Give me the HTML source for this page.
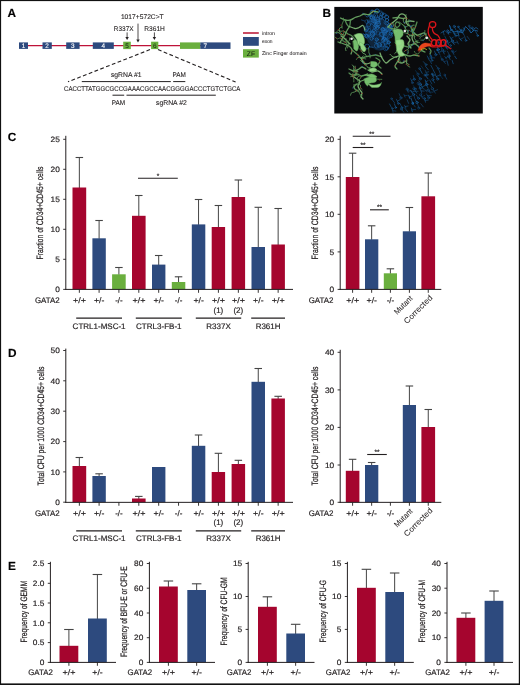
<!DOCTYPE html>
<html lang="en"><head><meta charset="utf-8"><title>GATA2 figure</title>
<style>html,body{margin:0;padding:0;background:#fff}svg{display:block}</style>
</head><body>
<svg width="520" height="685" viewBox="0 0 520 685" font-family="Liberation Sans, Arial, Helvetica, sans-serif" fill="#231f20" text-rendering="geometricPrecision">
<style>text{stroke:#231f20;stroke-width:0.18px;paint-order:stroke}text.w{stroke:#fff;stroke-width:0.1px}text.k{stroke:#000;stroke-width:0.25px}text.r{stroke-width:0.05px}.pa text{stroke-width:0.1px}.pa text.r{stroke-width:0.04px}text.v{stroke-width:0.22px}</style>
<rect x="0" y="0" width="520" height="685" fill="#fff"/>
<text x="7.60" y="17.42" font-size="11.8" font-weight="bold" fill="#000">A</text>
<text x="322.60" y="17.42" font-size="11.8" font-weight="bold" fill="#000">B</text>
<text x="7.80" y="140.82" font-size="11.8" font-weight="bold" fill="#000">C</text>
<text x="8.00" y="356.52" font-size="11.8" font-weight="bold" fill="#000">D</text>
<text x="8.00" y="569.82" font-size="11.8" font-weight="bold" fill="#000">E</text>
<g id="panelA" class="pa">
<line x1="19.50" y1="45.60" x2="230.00" y2="45.60" stroke="#be1238" stroke-width="1.3"/>
<rect x="19.00" y="42.40" width="9.00" height="6.50" fill="#2d4a7e"/>
<text x="23.50" y="48.04" font-size="6.4" text-anchor="middle" fill="#fff" class="w">1</text>
<rect x="42.50" y="42.40" width="9.30" height="6.50" fill="#2d4a7e"/>
<text x="47.15" y="48.04" font-size="6.4" text-anchor="middle" fill="#fff" class="w">2</text>
<rect x="66.20" y="42.40" width="13.40" height="6.50" fill="#2d4a7e"/>
<text x="72.90" y="48.04" font-size="6.4" text-anchor="middle" fill="#fff" class="w">3</text>
<rect x="92.80" y="42.40" width="21.00" height="6.50" fill="#2d4a7e"/>
<text x="103.30" y="48.04" font-size="6.4" text-anchor="middle" fill="#fff" class="w">4</text>
<rect x="123.20" y="41.70" width="7.60" height="7.40" fill="#6aaf3e"/>
<text x="127.00" y="48.04" font-size="6.4" text-anchor="middle" fill="#1d3a12">5</text>
<rect x="151.10" y="41.70" width="7.20" height="7.40" fill="#6aaf3e"/>
<text x="154.70" y="48.04" font-size="6.4" text-anchor="middle" fill="#1d3a12">6</text>
<rect x="180.00" y="42.40" width="20.40" height="6.50" fill="#6aaf3e"/>
<rect x="200.30" y="42.40" width="30.20" height="6.50" fill="#2d4a7e"/>
<text x="205.20" y="48.04" font-size="6.4" text-anchor="middle" fill="#fff" class="w">7</text>
<text x="120.90" y="18.73" font-size="6.8" textLength="42.80" lengthAdjust="spacingAndGlyphs">1017+572C&gt;T</text>
<text x="113.80" y="30.53" font-size="6.8" textLength="19.80" lengthAdjust="spacingAndGlyphs">R337X</text>
<text x="144.20" y="30.53" font-size="6.8" textLength="20.70" lengthAdjust="spacingAndGlyphs">R361H</text>
<line x1="138.00" y1="23.60" x2="138.00" y2="39.90" stroke="#231f20" stroke-width="0.8"/>
<path d="M136.30 39.40 L139.70 39.40 L138.00 42.40 Z" fill="#231f20"/>
<line x1="127.10" y1="32.40" x2="127.10" y2="37.50" stroke="#231f20" stroke-width="0.8"/>
<path d="M125.40 37.00 L128.80 37.00 L127.10 40.00 Z" fill="#231f20"/>
<line x1="154.40" y1="32.40" x2="154.40" y2="37.50" stroke="#231f20" stroke-width="0.8"/>
<path d="M152.70 37.00 L156.10 37.00 L154.40 40.00 Z" fill="#231f20"/>
<line x1="150.0" y1="49.6" x2="68.0" y2="81.8" stroke="#231f20" stroke-width="1.1" stroke-dasharray="3.8 2.4"/>
<line x1="158.0" y1="49.6" x2="235.6" y2="82.0" stroke="#231f20" stroke-width="1.1" stroke-dasharray="3.8 2.4"/>
<text x="126.20" y="77.03" font-size="6.8" text-anchor="middle" textLength="30.60" lengthAdjust="spacingAndGlyphs">sgRNA #1</text>
<text x="179.20" y="77.03" font-size="6.8" text-anchor="middle" textLength="13.40" lengthAdjust="spacingAndGlyphs">PAM</text>
<line x1="81.80" y1="81.60" x2="170.80" y2="81.60" stroke="#231f20" stroke-width="1.0"/>
<line x1="173.20" y1="81.60" x2="185.30" y2="81.60" stroke="#231f20" stroke-width="1.0"/>
<text x="64.00" y="90.83" font-size="6.8" textLength="176.40" lengthAdjust="spacingAndGlyphs">CACCTTATGGCGCCGAAACGCCAACGGGGACCCTGTCTGCA</text>
<line x1="112.50" y1="95.20" x2="124.20" y2="95.20" stroke="#231f20" stroke-width="1.0"/>
<line x1="126.50" y1="95.20" x2="215.80" y2="95.20" stroke="#231f20" stroke-width="1.0"/>
<text x="118.40" y="104.63" font-size="6.8" text-anchor="middle" textLength="13.40" lengthAdjust="spacingAndGlyphs">PAM</text>
<text x="171.40" y="104.63" font-size="6.8" text-anchor="middle" textLength="30.80" lengthAdjust="spacingAndGlyphs">sgRNA #2</text>
<line x1="243.00" y1="33.00" x2="258.80" y2="33.00" stroke="#b8102f" stroke-width="1.5"/>
<rect x="243.00" y="37.00" width="15.80" height="8.80" fill="#2d4a7e"/>
<rect x="243.00" y="49.20" width="15.80" height="8.40" fill="#6aaf3e"/>
<text x="250.90" y="55.76" font-size="6.6" text-anchor="middle" fill="#16240f">ZF</text>
<text x="262.00" y="35.10" font-size="5.3" textLength="13.00" lengthAdjust="spacingAndGlyphs" class="r">intron</text>
<text x="262.00" y="43.20" font-size="5.3" textLength="10.60" lengthAdjust="spacingAndGlyphs" class="r">exon</text>
<text x="262.00" y="54.90" font-size="5.3" textLength="44.60" lengthAdjust="spacingAndGlyphs" class="r">Zinc Finger domain</text>
</g>
<g id="panelB">
<rect x="334.3" y="6.9" width="148.5" height="106.6" fill="#0a0b0d"/>
<defs><filter id="soft" x="-5%" y="-5%" width="110%" height="110%"><feGaussianBlur stdDeviation="0.32"/></filter><clipPath id="bclip"><rect x="334.3" y="7" width="148.4" height="106.4"/></clipPath></defs>
<g clip-path="url(#bclip)"><g filter="url(#soft)" stroke-linecap="round" stroke-linejoin="round" fill="none">
<ellipse cx="377.5" cy="33" rx="12" ry="18" fill="#124a82" stroke="none" opacity="0.38" transform="rotate(-12 377.5 33)"/>
<circle cx="372.4" cy="17.5" r="2.1" stroke="#1b62a6" stroke-width="0.95" opacity="0.84"/>
<path d="M370.6 16.4L367.3 14.6" fill="none" stroke="#1b62a6" stroke-width="0.9" opacity="0.75"/>
<circle cx="375.1" cy="21.3" r="2.0" stroke="#1b62a6" stroke-width="0.95" opacity="0.84"/>
<path d="M375.5 23.3L376.0 26.5" fill="none" stroke="#1b62a6" stroke-width="0.9" opacity="0.75"/>
<circle cx="390.5" cy="35.8" r="1.9" stroke="#185896" stroke-width="0.95" opacity="0.57"/>
<circle cx="371.4" cy="17.2" r="1.6" stroke="#1e6fb8" stroke-width="0.95" opacity="0.75"/>
<circle cx="366.0" cy="35.6" r="1.7" stroke="#1b62a6" stroke-width="0.95" opacity="0.74"/>
<path d="M367.5 36.2L369.8 37.1" fill="none" stroke="#1b62a6" stroke-width="0.9" opacity="0.75"/>
<circle cx="382.7" cy="29.4" r="1.8" stroke="#1c68ae" stroke-width="0.95" opacity="0.87"/>
<path d="M382.7 31.2L382.8 33.5" fill="none" stroke="#1c68ae" stroke-width="0.9" opacity="0.75"/>
<circle cx="371.7" cy="32.3" r="1.8" stroke="#154c80" stroke-width="0.95" opacity="0.65"/>
<circle cx="366.4" cy="29.0" r="2.2" stroke="#185896" stroke-width="0.95" opacity="0.88"/>
<path d="M368.5 28.5L370.6 28.0" fill="none" stroke="#185896" stroke-width="0.9" opacity="0.75"/>
<circle cx="379.2" cy="44.9" r="2.2" stroke="#1e6fb8" stroke-width="0.95" opacity="0.79"/>
<path d="M377.2 43.9L374.7 42.5" fill="none" stroke="#1e6fb8" stroke-width="0.9" opacity="0.75"/>
<circle cx="376.7" cy="39.6" r="1.6" stroke="#1e6fb8" stroke-width="0.95" opacity="0.78"/>
<circle cx="386.8" cy="23.2" r="1.8" stroke="#1e6fb8" stroke-width="0.95" opacity="0.56"/>
<path d="M387.7 24.8L388.8 26.8" fill="none" stroke="#1e6fb8" stroke-width="0.9" opacity="0.75"/>
<circle cx="366.8" cy="21.6" r="1.9" stroke="#154c80" stroke-width="0.95" opacity="0.58"/>
<path d="M365.0 21.1L361.4 19.9" fill="none" stroke="#154c80" stroke-width="0.9" opacity="0.75"/>
<circle cx="386.8" cy="48.2" r="1.8" stroke="#154c80" stroke-width="0.95" opacity="0.90"/>
<circle cx="374.0" cy="20.9" r="1.6" stroke="#185896" stroke-width="0.95" opacity="0.63"/>
<path d="M372.5 21.1L369.3 21.4" fill="none" stroke="#185896" stroke-width="0.9" opacity="0.75"/>
<circle cx="375.1" cy="26.9" r="2.0" stroke="#185896" stroke-width="0.95" opacity="0.79"/>
<path d="M373.7 25.5L371.2 23.3" fill="none" stroke="#185896" stroke-width="0.9" opacity="0.75"/>
<circle cx="385.6" cy="48.6" r="2.2" stroke="#154c80" stroke-width="0.95" opacity="0.69"/>
<path d="M383.4 48.9L380.6 49.2" fill="none" stroke="#154c80" stroke-width="0.9" opacity="0.75"/>
<circle cx="375.8" cy="15.7" r="2.0" stroke="#1b62a6" stroke-width="0.95" opacity="0.55"/>
<path d="M377.4 16.9L379.6 18.6" fill="none" stroke="#1b62a6" stroke-width="0.9" opacity="0.75"/>
<circle cx="380.8" cy="17.4" r="1.7" stroke="#1e6fb8" stroke-width="0.95" opacity="0.76"/>
<path d="M382.1 18.5L384.3 20.5" fill="none" stroke="#1e6fb8" stroke-width="0.9" opacity="0.75"/>
<circle cx="391.4" cy="31.7" r="1.8" stroke="#185896" stroke-width="0.95" opacity="0.59"/>
<path d="M391.2 33.4L390.9 37.1" fill="none" stroke="#185896" stroke-width="0.9" opacity="0.75"/>
<circle cx="390.6" cy="33.7" r="1.6" stroke="#1c68ae" stroke-width="0.95" opacity="0.87"/>
<circle cx="371.6" cy="38.6" r="1.6" stroke="#1e6fb8" stroke-width="0.95" opacity="0.73"/>
<circle cx="373.3" cy="20.6" r="2.0" stroke="#1c68ae" stroke-width="0.95" opacity="0.67"/>
<path d="M374.1 18.7L375.6 15.1" fill="none" stroke="#1c68ae" stroke-width="0.9" opacity="0.75"/>
<circle cx="387.7" cy="45.7" r="2.2" stroke="#185896" stroke-width="0.95" opacity="0.62"/>
<path d="M387.5 43.4L387.0 39.5" fill="none" stroke="#185896" stroke-width="0.9" opacity="0.75"/>
<circle cx="385.9" cy="31.3" r="1.7" stroke="#1c68ae" stroke-width="0.95" opacity="0.88"/>
<path d="M387.5 30.7L391.1 29.1" fill="none" stroke="#1c68ae" stroke-width="0.9" opacity="0.75"/>
<circle cx="390.7" cy="26.7" r="1.7" stroke="#185896" stroke-width="0.95" opacity="0.71"/>
<path d="M389.0 26.9L385.1 27.3" fill="none" stroke="#185896" stroke-width="0.9" opacity="0.75"/>
<circle cx="389.4" cy="25.8" r="2.1" stroke="#1b62a6" stroke-width="0.95" opacity="0.87"/>
<circle cx="384.8" cy="31.6" r="1.7" stroke="#1e6fb8" stroke-width="0.95" opacity="0.58"/>
<circle cx="383.9" cy="30.9" r="2.2" stroke="#1b62a6" stroke-width="0.95" opacity="0.80"/>
<path d="M385.4 32.5L387.1 34.1" fill="none" stroke="#1b62a6" stroke-width="0.9" opacity="0.75"/>
<circle cx="367.2" cy="46.5" r="2.4" stroke="#1e6fb8" stroke-width="0.95" opacity="0.60"/>
<path d="M369.6 46.9L373.2 47.3" fill="none" stroke="#1e6fb8" stroke-width="0.9" opacity="0.75"/>
<circle cx="384.1" cy="15.4" r="2.2" stroke="#185896" stroke-width="0.95" opacity="0.70"/>
<circle cx="387.0" cy="20.1" r="1.7" stroke="#1e6fb8" stroke-width="0.95" opacity="0.73"/>
<circle cx="372.5" cy="34.4" r="2.3" stroke="#1b62a6" stroke-width="0.95" opacity="0.87"/>
<path d="M370.3 35.0L367.2 35.8" fill="none" stroke="#1b62a6" stroke-width="0.9" opacity="0.75"/>
<circle cx="389.2" cy="29.1" r="2.3" stroke="#1c68ae" stroke-width="0.95" opacity="0.60"/>
<path d="M386.9 28.9L383.2 28.7" fill="none" stroke="#1c68ae" stroke-width="0.9" opacity="0.75"/>
<circle cx="385.5" cy="37.2" r="2.2" stroke="#185896" stroke-width="0.95" opacity="0.61"/>
<path d="M385.2 35.0L384.7 31.9" fill="none" stroke="#185896" stroke-width="0.9" opacity="0.75"/>
<circle cx="372.5" cy="33.3" r="2.0" stroke="#1b62a6" stroke-width="0.95" opacity="0.86"/>
<path d="M373.2 35.2L373.9 37.1" fill="none" stroke="#1b62a6" stroke-width="0.9" opacity="0.75"/>
<circle cx="365.8" cy="30.4" r="1.5" stroke="#1b62a6" stroke-width="0.95" opacity="0.71"/>
<circle cx="377.7" cy="33.0" r="2.1" stroke="#154c80" stroke-width="0.95" opacity="0.73"/>
<circle cx="377.7" cy="21.6" r="2.0" stroke="#1e6fb8" stroke-width="0.95" opacity="0.87"/>
<circle cx="368.9" cy="30.2" r="1.9" stroke="#154c80" stroke-width="0.95" opacity="0.70"/>
<path d="M369.0 32.1L369.1 34.3" fill="none" stroke="#154c80" stroke-width="0.9" opacity="0.75"/>
<circle cx="382.4" cy="44.7" r="2.3" stroke="#185896" stroke-width="0.95" opacity="0.88"/>
<circle cx="373.6" cy="21.9" r="1.6" stroke="#154c80" stroke-width="0.95" opacity="0.63"/>
<circle cx="374.5" cy="32.0" r="2.4" stroke="#185896" stroke-width="0.95" opacity="0.61"/>
<path d="M372.2 31.7L369.5 31.5" fill="none" stroke="#185896" stroke-width="0.9" opacity="0.75"/>
<circle cx="368.7" cy="24.7" r="2.1" stroke="#1b62a6" stroke-width="0.95" opacity="0.67"/>
<path d="M368.1 22.6L367.2 20.0" fill="none" stroke="#1b62a6" stroke-width="0.9" opacity="0.75"/>
<circle cx="378.0" cy="23.7" r="2.4" stroke="#1b62a6" stroke-width="0.95" opacity="0.89"/>
<circle cx="385.6" cy="22.6" r="1.6" stroke="#154c80" stroke-width="0.95" opacity="0.85"/>
<circle cx="390.4" cy="28.5" r="2.0" stroke="#1c68ae" stroke-width="0.95" opacity="0.75"/>
<circle cx="383.0" cy="29.3" r="1.6" stroke="#1b62a6" stroke-width="0.95" opacity="0.77"/>
<circle cx="376.2" cy="25.6" r="2.0" stroke="#1e6fb8" stroke-width="0.95" opacity="0.77"/>
<path d="M375.7 23.6L374.7 19.9" fill="none" stroke="#1e6fb8" stroke-width="0.9" opacity="0.75"/>
<circle cx="381.2" cy="33.8" r="1.7" stroke="#154c80" stroke-width="0.95" opacity="0.73"/>
<path d="M380.3 35.2L379.1 36.9" fill="none" stroke="#154c80" stroke-width="0.9" opacity="0.75"/>
<circle cx="384.3" cy="34.7" r="1.7" stroke="#154c80" stroke-width="0.95" opacity="0.64"/>
<path d="M383.3 33.3L381.6 30.5" fill="none" stroke="#154c80" stroke-width="0.9" opacity="0.75"/>
<circle cx="382.0" cy="34.5" r="2.3" stroke="#1c68ae" stroke-width="0.95" opacity="0.66"/>
<path d="M382.3 36.8L382.6 39.1" fill="none" stroke="#1c68ae" stroke-width="0.9" opacity="0.75"/>
<circle cx="388.6" cy="42.3" r="1.6" stroke="#1e6fb8" stroke-width="0.95" opacity="0.89"/>
<circle cx="388.5" cy="29.5" r="1.5" stroke="#154c80" stroke-width="0.95" opacity="0.85"/>
<circle cx="371.2" cy="21.4" r="1.8" stroke="#154c80" stroke-width="0.95" opacity="0.61"/>
<path d="M372.9 21.5L375.7 21.5" fill="none" stroke="#154c80" stroke-width="0.9" opacity="0.75"/>
<circle cx="372.4" cy="12.5" r="2.3" stroke="#185896" stroke-width="0.95" opacity="0.67"/>
<path d="M370.7 14.0L368.5 16.0" fill="none" stroke="#185896" stroke-width="0.9" opacity="0.75"/>
<circle cx="377.6" cy="19.6" r="2.0" stroke="#1b62a6" stroke-width="0.95" opacity="0.58"/>
<circle cx="367.2" cy="36.2" r="1.9" stroke="#1e6fb8" stroke-width="0.95" opacity="0.66"/>
<path d="M365.6 35.3L363.0 33.7" fill="none" stroke="#1e6fb8" stroke-width="0.9" opacity="0.75"/>
<circle cx="384.8" cy="39.3" r="2.1" stroke="#1c68ae" stroke-width="0.95" opacity="0.69"/>
<path d="M386.9 39.1L389.2 38.8" fill="none" stroke="#1c68ae" stroke-width="0.9" opacity="0.75"/>
<circle cx="384.0" cy="38.7" r="1.5" stroke="#1c68ae" stroke-width="0.95" opacity="0.77"/>
<circle cx="386.6" cy="17.0" r="2.0" stroke="#1c68ae" stroke-width="0.95" opacity="0.75"/>
<circle cx="386.1" cy="41.6" r="2.4" stroke="#185896" stroke-width="0.95" opacity="0.58"/>
<path d="M384.6 39.8L382.1 36.8" fill="none" stroke="#185896" stroke-width="0.9" opacity="0.75"/>
<circle cx="373.9" cy="30.4" r="1.5" stroke="#1b62a6" stroke-width="0.95" opacity="0.77"/>
<circle cx="377.2" cy="11.1" r="2.2" stroke="#1c68ae" stroke-width="0.95" opacity="0.86"/>
<path d="M375.0 10.8L371.6 10.2" fill="none" stroke="#1c68ae" stroke-width="0.9" opacity="0.75"/>
<circle cx="376.7" cy="45.8" r="2.3" stroke="#185896" stroke-width="0.95" opacity="0.81"/>
<path d="M376.6 43.5L376.3 39.6" fill="none" stroke="#185896" stroke-width="0.9" opacity="0.75"/>
<circle cx="377.3" cy="27.5" r="1.9" stroke="#1e6fb8" stroke-width="0.95" opacity="0.82"/>
<circle cx="381.6" cy="14.3" r="1.6" stroke="#1e6fb8" stroke-width="0.95" opacity="0.78"/>
<circle cx="381.0" cy="16.7" r="1.9" stroke="#154c80" stroke-width="0.95" opacity="0.64"/>
<circle cx="383.1" cy="40.1" r="1.8" stroke="#1c68ae" stroke-width="0.95" opacity="0.65"/>
<path d="M383.3 38.3L383.7 34.3" fill="none" stroke="#1c68ae" stroke-width="0.9" opacity="0.75"/>
<circle cx="378.9" cy="24.4" r="1.6" stroke="#154c80" stroke-width="0.95" opacity="0.56"/>
<path d="M379.6 23.0L381.3 19.4" fill="none" stroke="#154c80" stroke-width="0.9" opacity="0.75"/>
<circle cx="376.0" cy="22.6" r="1.7" stroke="#185896" stroke-width="0.95" opacity="0.58"/>
<path d="M376.0 20.9L376.0 18.3" fill="none" stroke="#185896" stroke-width="0.9" opacity="0.75"/>
<path d="M372.0 12.0C372.5 11.8 374.0 10.4 375.0 10.5C376.0 10.6 377.0 12.4 378.0 12.5C379.0 12.6 380.0 10.8 381.0 11.0C382.0 11.2 383.5 13.1 384.0 13.5" fill="none" stroke="#1a64a6" stroke-width="0.8" opacity="0.8"/>
<path d="M364.0 14.0C364.5 14.5 366.0 16.8 367.0 17.0C368.0 17.2 369.0 15.3 370.0 15.5C371.0 15.7 372.5 17.6 373.0 18.0" fill="none" stroke="#1c6fb8" stroke-width="0.8" opacity="0.8"/>
<path d="M450.2 26.1L451.4 29.8" fill="none" stroke="#15548a" stroke-width="0.9" opacity="0.6164919905272594"/>
<path d="M454.5 26.7L455.9 29.9" fill="none" stroke="#1a66a8" stroke-width="0.9" opacity="0.5904251488542218"/>
<circle cx="454.3" cy="26.4" r="1.1" stroke="#1a66a8" stroke-width="0.7" opacity="0.8"/>
<path d="M458.5 27.1L460.5 30.6" fill="none" stroke="#185e9c" stroke-width="0.9" opacity="0.7009982689372438"/>
<circle cx="458.3" cy="26.8" r="0.8" stroke="#185e9c" stroke-width="0.7" opacity="0.8"/>
<path d="M463.2 27.7L464.9 30.5" fill="none" stroke="#185e9c" stroke-width="0.9" opacity="0.6488199576611007"/>
<path d="M469.2 26.4L470.4 31.2" fill="none" stroke="#12497c" stroke-width="0.9" opacity="0.5869628490812147"/>
<circle cx="469.1" cy="25.9" r="0.9" stroke="#12497c" stroke-width="0.7" opacity="0.8"/>
<path d="M472.3 27.9L473.2 31.0" fill="none" stroke="#12497c" stroke-width="0.9" opacity="0.7719015655207722"/>
<circle cx="472.2" cy="27.6" r="0.9" stroke="#12497c" stroke-width="0.7" opacity="0.8"/>
<path d="M443.2 31.2L444.1 35.0" fill="none" stroke="#15548a" stroke-width="0.9" opacity="0.7435379748666141"/>
<path d="M447.7 31.0L448.7 34.2" fill="none" stroke="#185e9c" stroke-width="0.9" opacity="0.8394505528371395"/>
<circle cx="447.6" cy="30.6" r="0.9" stroke="#185e9c" stroke-width="0.7" opacity="0.8"/>
<path d="M448.2 32.6L451.1 32.6" fill="none" stroke="#185e9c" stroke-width="0.8" opacity="0.7"/>
<path d="M452.6 31.6L455.2 35.6" fill="none" stroke="#12497c" stroke-width="0.9" opacity="0.5197459770893041"/>
<circle cx="455.5" cy="36.0" r="0.8" stroke="#12497c" stroke-width="0.7" opacity="0.8"/>
<path d="M453.9 33.6L457.0 33.1" fill="none" stroke="#12497c" stroke-width="0.8" opacity="0.7"/>
<path d="M457.3 30.9L458.8 35.1" fill="none" stroke="#1a66a8" stroke-width="0.9" opacity="0.8491354318542511"/>
<path d="M458.0 33.0L461.5 31.2" fill="none" stroke="#1a66a8" stroke-width="0.8" opacity="0.7"/>
<path d="M461.5 30.5L463.9 34.8" fill="none" stroke="#1a66a8" stroke-width="0.9" opacity="0.6548523013237217"/>
<circle cx="461.2" cy="30.1" r="0.9" stroke="#1a66a8" stroke-width="0.7" opacity="0.8"/>
<path d="M475.7 31.6L477.6 35.3" fill="none" stroke="#1a66a8" stroke-width="0.9" opacity="0.6562216245946226"/>
<circle cx="477.7" cy="35.7" r="0.8" stroke="#1a66a8" stroke-width="0.7" opacity="0.8"/>
<path d="M444.9 36.4L446.4 39.4" fill="none" stroke="#12497c" stroke-width="0.9" opacity="0.7808989131887978"/>
<path d="M449.9 36.7L452.2 40.6" fill="none" stroke="#1a66a8" stroke-width="0.9" opacity="0.7085009442840159"/>
<circle cx="452.5" cy="41.0" r="1.1" stroke="#1a66a8" stroke-width="0.7" opacity="0.8"/>
<path d="M451.0 38.6L453.2 37.3" fill="none" stroke="#1a66a8" stroke-width="0.8" opacity="0.7"/>
<path d="M459.3 37.9L461.6 40.9" fill="none" stroke="#185e9c" stroke-width="0.9" opacity="0.8459512479485565"/>
<path d="M460.5 39.4L463.3 37.8" fill="none" stroke="#185e9c" stroke-width="0.8" opacity="0.7"/>
<path d="M464.4 35.7L465.8 40.0" fill="none" stroke="#185e9c" stroke-width="0.9" opacity="0.6028731961013656"/>
<circle cx="465.9" cy="40.5" r="0.9" stroke="#185e9c" stroke-width="0.7" opacity="0.8"/>
<path d="M467.2 36.4L469.4 39.4" fill="none" stroke="#15548a" stroke-width="0.9" opacity="0.6386243584608943"/>
<path d="M437.8 40.6L439.5 44.9" fill="none" stroke="#15548a" stroke-width="0.9" opacity="0.7865915876965018"/>
<circle cx="439.6" cy="45.3" r="0.9" stroke="#15548a" stroke-width="0.7" opacity="0.8"/>
<path d="M438.6 42.7L441.9 41.1" fill="none" stroke="#15548a" stroke-width="0.8" opacity="0.7"/>
<path d="M442.9 40.5L444.9 44.2" fill="none" stroke="#15548a" stroke-width="0.9" opacity="0.5319034094256939"/>
<circle cx="445.1" cy="44.6" r="1.0" stroke="#15548a" stroke-width="0.7" opacity="0.8"/>
<path d="M443.9 42.3L447.6 40.9" fill="none" stroke="#15548a" stroke-width="0.8" opacity="0.7"/>
<path d="M447.0 41.4L449.0 45.2" fill="none" stroke="#1a66a8" stroke-width="0.9" opacity="0.6367558908075921"/>
<circle cx="446.8" cy="41.1" r="1.0" stroke="#1a66a8" stroke-width="0.7" opacity="0.8"/>
<path d="M448.0 43.3L450.3 42.0" fill="none" stroke="#1a66a8" stroke-width="0.8" opacity="0.7"/>
<path d="M451.9 41.3L454.4 44.6" fill="none" stroke="#185e9c" stroke-width="0.9" opacity="0.7242333422024837"/>
<path d="M453.2 42.9L456.2 42.6" fill="none" stroke="#185e9c" stroke-width="0.8" opacity="0.7"/>
<path d="M456.9 41.0L458.3 43.9" fill="none" stroke="#185e9c" stroke-width="0.9" opacity="0.6716783774178068"/>
<path d="M436.5 45.3L438.3 49.2" fill="none" stroke="#1a66a8" stroke-width="0.9" opacity="0.6078740675294297"/>
<circle cx="438.4" cy="49.6" r="1.1" stroke="#1a66a8" stroke-width="0.7" opacity="0.8"/>
<path d="M440.3 45.3L442.0 48.8" fill="none" stroke="#15548a" stroke-width="0.9" opacity="0.7165013404413403"/>
<path d="M445.7 46.4L447.3 49.2" fill="none" stroke="#1a66a8" stroke-width="0.9" opacity="0.6546884967127421"/>
<circle cx="445.6" cy="46.1" r="0.8" stroke="#1a66a8" stroke-width="0.7" opacity="0.8"/>
<path d="M446.5 47.8L449.5 48.1" fill="none" stroke="#1a66a8" stroke-width="0.8" opacity="0.7"/>
<path d="M450.5 45.7L451.3 48.6" fill="none" stroke="#15548a" stroke-width="0.9" opacity="0.5232332352447768"/>
<circle cx="450.5" cy="45.4" r="0.9" stroke="#15548a" stroke-width="0.7" opacity="0.8"/>
<path d="M429.7 51.4L430.6 55.8" fill="none" stroke="#12497c" stroke-width="0.9" opacity="0.6300131774892206"/>
<circle cx="430.7" cy="56.2" r="1.0" stroke="#12497c" stroke-width="0.7" opacity="0.8"/>
<path d="M434.5 51.0L435.7 54.4" fill="none" stroke="#185e9c" stroke-width="0.9" opacity="0.6806373699663458"/>
<circle cx="435.8" cy="54.7" r="1.1" stroke="#185e9c" stroke-width="0.7" opacity="0.8"/>
<path d="M437.5 50.3L439.8 54.5" fill="none" stroke="#1a66a8" stroke-width="0.9" opacity="0.5462081527034794"/>
<circle cx="437.3" cy="49.9" r="0.8" stroke="#1a66a8" stroke-width="0.7" opacity="0.8"/>
<path d="M438.6 52.4L441.2 51.5" fill="none" stroke="#1a66a8" stroke-width="0.8" opacity="0.7"/>
<path d="M442.8 50.5L444.3 54.0" fill="none" stroke="#15548a" stroke-width="0.9" opacity="0.7899650954918238"/>
<circle cx="442.6" cy="50.2" r="1.2" stroke="#15548a" stroke-width="0.7" opacity="0.8"/>
<path d="M443.5 52.2L445.8 51.0" fill="none" stroke="#15548a" stroke-width="0.8" opacity="0.7"/>
<path d="M447.5 51.4L449.9 55.7" fill="none" stroke="#1a66a8" stroke-width="0.9" opacity="0.5196456970701484"/>
<path d="M452.4 51.4L453.9 54.5" fill="none" stroke="#12497c" stroke-width="0.9" opacity="0.8162262145440269"/>
<circle cx="452.3" cy="51.1" r="1.0" stroke="#12497c" stroke-width="0.7" opacity="0.8"/>
<path d="M453.2 53.0L456.3 51.0" fill="none" stroke="#12497c" stroke-width="0.8" opacity="0.7"/>
<path d="M427.3 56.0L429.1 60.0" fill="none" stroke="#12497c" stroke-width="0.9" opacity="0.8210463179881544"/>
<path d="M428.2 58.0L432.0 58.5" fill="none" stroke="#12497c" stroke-width="0.8" opacity="0.7"/>
<path d="M430.7 55.2L431.9 60.0" fill="none" stroke="#15548a" stroke-width="0.9" opacity="0.761152972431745"/>
<circle cx="432.0" cy="60.5" r="0.9" stroke="#15548a" stroke-width="0.7" opacity="0.8"/>
<path d="M431.3 57.6L434.7 58.0" fill="none" stroke="#15548a" stroke-width="0.8" opacity="0.7"/>
<path d="M440.6 55.9L441.9 60.6" fill="none" stroke="#12497c" stroke-width="0.9" opacity="0.5818399686337945"/>
<path d="M444.8 56.5L446.6 59.0" fill="none" stroke="#185e9c" stroke-width="0.9" opacity="0.5373374325609893"/>
<path d="M445.7 57.8L447.9 56.6" fill="none" stroke="#185e9c" stroke-width="0.8" opacity="0.7"/>
<path d="M449.0 56.5L450.1 59.5" fill="none" stroke="#185e9c" stroke-width="0.9" opacity="0.7066654802606926"/>
<circle cx="448.9" cy="56.2" r="1.2" stroke="#185e9c" stroke-width="0.7" opacity="0.8"/>
<path d="M454.7 56.1L456.4 58.6" fill="none" stroke="#185e9c" stroke-width="0.9" opacity="0.7967010365343761"/>
<path d="M423.4 61.7L425.7 64.4" fill="none" stroke="#15548a" stroke-width="0.9" opacity="0.7626814569700733"/>
<circle cx="426.0" cy="64.7" r="1.0" stroke="#15548a" stroke-width="0.7" opacity="0.8"/>
<path d="M429.5 60.0L431.6 63.6" fill="none" stroke="#1a66a8" stroke-width="0.9" opacity="0.555613376195024"/>
<path d="M442.5 59.7L445.4 63.5" fill="none" stroke="#12497c" stroke-width="0.9" opacity="0.7608268952381649"/>
<circle cx="442.2" cy="59.3" r="0.9" stroke="#12497c" stroke-width="0.7" opacity="0.8"/>
<path d="M443.9 61.6L447.1 60.7" fill="none" stroke="#12497c" stroke-width="0.8" opacity="0.7"/>
<path d="M447.3 61.4L448.2 65.3" fill="none" stroke="#15548a" stroke-width="0.9" opacity="0.7640664882304682"/>
<path d="M452.2 60.5L453.2 63.7" fill="none" stroke="#1a66a8" stroke-width="0.9" opacity="0.6535793106345197"/>
<path d="M421.2 65.9L423.4 69.1" fill="none" stroke="#12497c" stroke-width="0.9" opacity="0.504416055155228"/>
<path d="M425.6 66.5L428.3 69.8" fill="none" stroke="#1a66a8" stroke-width="0.9" opacity="0.6416496794814703"/>
<path d="M430.9 65.4L433.0 69.3" fill="none" stroke="#15548a" stroke-width="0.9" opacity="0.7283698246481048"/>
<path d="M435.8 65.2L437.9 68.1" fill="none" stroke="#12497c" stroke-width="0.9" opacity="0.719896929675546"/>
<circle cx="438.2" cy="68.4" r="0.9" stroke="#12497c" stroke-width="0.7" opacity="0.8"/>
<path d="M415.6 70.6L417.7 73.8" fill="none" stroke="#12497c" stroke-width="0.9" opacity="0.5046579187833871"/>
<circle cx="417.9" cy="74.1" r="1.1" stroke="#12497c" stroke-width="0.7" opacity="0.8"/>
<path d="M419.8 69.0L422.2 73.4" fill="none" stroke="#15548a" stroke-width="0.9" opacity="0.8362980305193883"/>
<circle cx="419.5" cy="68.6" r="0.9" stroke="#15548a" stroke-width="0.7" opacity="0.8"/>
<path d="M425.1 70.2L427.0 74.4" fill="none" stroke="#15548a" stroke-width="0.9" opacity="0.5511922111630149"/>
<circle cx="427.2" cy="74.8" r="1.0" stroke="#15548a" stroke-width="0.7" opacity="0.8"/>
<path d="M426.0 72.3L428.7 71.8" fill="none" stroke="#15548a" stroke-width="0.8" opacity="0.7"/>
<path d="M433.2 70.0L435.1 73.5" fill="none" stroke="#15548a" stroke-width="0.9" opacity="0.7819028001474313"/>
<path d="M438.7 69.6L440.3 73.6" fill="none" stroke="#185e9c" stroke-width="0.9" opacity="0.6268510580320925"/>
<path d="M413.3 75.6L414.2 79.0" fill="none" stroke="#185e9c" stroke-width="0.9" opacity="0.5819615117420915"/>
<circle cx="414.3" cy="79.3" r="1.0" stroke="#185e9c" stroke-width="0.7" opacity="0.8"/>
<path d="M418.1 75.8L420.1 78.6" fill="none" stroke="#185e9c" stroke-width="0.9" opacity="0.6122394041254083"/>
<circle cx="420.3" cy="78.8" r="1.1" stroke="#185e9c" stroke-width="0.7" opacity="0.8"/>
<path d="M425.3 75.4L428.0 78.8" fill="none" stroke="#185e9c" stroke-width="0.9" opacity="0.8260225627544904"/>
<circle cx="425.0" cy="75.0" r="1.0" stroke="#185e9c" stroke-width="0.7" opacity="0.8"/>
<path d="M432.3 74.4L433.5 77.3" fill="none" stroke="#1a66a8" stroke-width="0.9" opacity="0.7306582393359796"/>
<circle cx="432.2" cy="74.1" r="0.9" stroke="#1a66a8" stroke-width="0.7" opacity="0.8"/>
<path d="M432.9 75.9L435.3 74.8" fill="none" stroke="#1a66a8" stroke-width="0.8" opacity="0.7"/>
<path d="M435.1 74.5L437.5 78.6" fill="none" stroke="#1a66a8" stroke-width="0.9" opacity="0.6206835708860192"/>
<circle cx="437.7" cy="79.0" r="1.1" stroke="#1a66a8" stroke-width="0.7" opacity="0.8"/>
<path d="M436.3 76.5L439.0 75.5" fill="none" stroke="#1a66a8" stroke-width="0.8" opacity="0.7"/>
<path d="M440.2 75.5L442.8 78.7" fill="none" stroke="#12497c" stroke-width="0.9" opacity="0.5173948547949547"/>
<circle cx="439.9" cy="75.2" r="0.8" stroke="#12497c" stroke-width="0.7" opacity="0.8"/>
<path d="M444.9 75.4L446.8 79.2" fill="none" stroke="#12497c" stroke-width="0.9" opacity="0.7193849931344026"/>
<circle cx="444.7" cy="75.0" r="0.9" stroke="#12497c" stroke-width="0.7" opacity="0.8"/>
<path d="M410.7 78.8L412.3 82.4" fill="none" stroke="#15548a" stroke-width="0.9" opacity="0.644345983431353"/>
<circle cx="412.4" cy="82.8" r="0.9" stroke="#15548a" stroke-width="0.7" opacity="0.8"/>
<path d="M411.5 80.6L413.6 79.2" fill="none" stroke="#15548a" stroke-width="0.8" opacity="0.7"/>
<path d="M418.7 80.8L421.2 83.8" fill="none" stroke="#15548a" stroke-width="0.9" opacity="0.7604725738286496"/>
<path d="M425.2 80.0L426.6 84.0" fill="none" stroke="#1a66a8" stroke-width="0.9" opacity="0.7482323026234945"/>
<circle cx="426.7" cy="84.4" r="1.2" stroke="#1a66a8" stroke-width="0.7" opacity="0.8"/>
<path d="M425.9 82.0L428.1 80.6" fill="none" stroke="#1a66a8" stroke-width="0.8" opacity="0.7"/>
<path d="M429.7 80.0L431.9 83.9" fill="none" stroke="#1a66a8" stroke-width="0.9" opacity="0.5580989624201858"/>
<path d="M433.0 79.9L434.5 82.8" fill="none" stroke="#15548a" stroke-width="0.9" opacity="0.7790762673381484"/>
<circle cx="432.8" cy="79.6" r="1.1" stroke="#15548a" stroke-width="0.7" opacity="0.8"/>
<path d="M413.3 85.6L415.3 88.7" fill="none" stroke="#12497c" stroke-width="0.9" opacity="0.5297722454294072"/>
<circle cx="415.5" cy="89.0" r="0.9" stroke="#12497c" stroke-width="0.7" opacity="0.8"/>
<path d="M418.4 83.8L420.0 87.9" fill="none" stroke="#12497c" stroke-width="0.9" opacity="0.8240996482905529"/>
<circle cx="418.2" cy="83.4" r="1.1" stroke="#12497c" stroke-width="0.7" opacity="0.8"/>
<path d="M420.8 85.0L423.4 89.0" fill="none" stroke="#1a66a8" stroke-width="0.9" opacity="0.6826504831190965"/>
<circle cx="420.5" cy="84.6" r="0.9" stroke="#1a66a8" stroke-width="0.7" opacity="0.8"/>
<path d="M422.1 87.0L425.2 85.4" fill="none" stroke="#1a66a8" stroke-width="0.8" opacity="0.7"/>
<path d="M426.5 85.0L428.0 88.1" fill="none" stroke="#15548a" stroke-width="0.9" opacity="0.8229163501337138"/>
<circle cx="426.3" cy="84.6" r="0.9" stroke="#15548a" stroke-width="0.7" opacity="0.8"/>
<path d="M430.4 84.7L432.1 87.4" fill="none" stroke="#185e9c" stroke-width="0.9" opacity="0.5716253224510075"/>
<path d="M407.2 89.5L408.2 92.4" fill="none" stroke="#15548a" stroke-width="0.9" opacity="0.589551766808395"/>
<circle cx="407.1" cy="89.2" r="1.1" stroke="#15548a" stroke-width="0.7" opacity="0.8"/>
<path d="M407.7 90.9L411.3 91.0" fill="none" stroke="#15548a" stroke-width="0.8" opacity="0.7"/>
<path d="M410.5 90.2L413.3 94.1" fill="none" stroke="#185e9c" stroke-width="0.9" opacity="0.7369112101337177"/>
<circle cx="413.6" cy="94.5" r="1.1" stroke="#185e9c" stroke-width="0.7" opacity="0.8"/>
<path d="M411.9 92.2L414.6 91.2" fill="none" stroke="#185e9c" stroke-width="0.8" opacity="0.7"/>
<path d="M414.1 89.1L416.8 93.2" fill="none" stroke="#15548a" stroke-width="0.9" opacity="0.8122594233931222"/>
<circle cx="413.9" cy="88.7" r="1.1" stroke="#15548a" stroke-width="0.7" opacity="0.8"/>
<path d="M415.4 91.2L418.1 91.3" fill="none" stroke="#15548a" stroke-width="0.8" opacity="0.7"/>
<path d="M420.3 88.6L421.8 93.3" fill="none" stroke="#185e9c" stroke-width="0.9" opacity="0.6347777004896644"/>
<circle cx="420.1" cy="88.2" r="1.0" stroke="#185e9c" stroke-width="0.7" opacity="0.8"/>
<path d="M421.0 90.9L424.3 91.1" fill="none" stroke="#185e9c" stroke-width="0.8" opacity="0.7"/>
<path d="M424.4 88.9L426.9 92.1" fill="none" stroke="#12497c" stroke-width="0.9" opacity="0.5506488338384021"/>
<path d="M425.7 90.5L428.3 89.7" fill="none" stroke="#12497c" stroke-width="0.8" opacity="0.7"/>
<path d="M428.6 90.6L430.5 93.2" fill="none" stroke="#12497c" stroke-width="0.9" opacity="0.6596646291472679"/>
<circle cx="428.4" cy="90.3" r="1.2" stroke="#12497c" stroke-width="0.7" opacity="0.8"/>
<path d="M429.5 91.9L433.0 92.2" fill="none" stroke="#12497c" stroke-width="0.8" opacity="0.7"/>
<path d="M432.7 89.1L435.4 93.2" fill="none" stroke="#15548a" stroke-width="0.9" opacity="0.6512208211932877"/>
<circle cx="432.4" cy="88.7" r="1.2" stroke="#15548a" stroke-width="0.7" opacity="0.8"/>
<path d="M434.0 91.2L437.6 89.7" fill="none" stroke="#15548a" stroke-width="0.8" opacity="0.7"/>
<path d="M399.1 93.6L400.7 97.5" fill="none" stroke="#15548a" stroke-width="0.9" opacity="0.570801794182604"/>
<circle cx="400.9" cy="97.9" r="1.1" stroke="#15548a" stroke-width="0.7" opacity="0.8"/>
<path d="M403.9 94.2L405.1 97.2" fill="none" stroke="#12497c" stroke-width="0.9" opacity="0.6433308707071512"/>
<path d="M404.5 95.7L407.4 95.4" fill="none" stroke="#12497c" stroke-width="0.8" opacity="0.7"/>
<path d="M408.6 95.2L409.9 98.7" fill="none" stroke="#185e9c" stroke-width="0.9" opacity="0.8262416188122226"/>
<path d="M409.2 97.0L411.9 96.0" fill="none" stroke="#185e9c" stroke-width="0.8" opacity="0.7"/>
<path d="M413.9 95.1L414.8 98.5" fill="none" stroke="#185e9c" stroke-width="0.9" opacity="0.5376909936511381"/>
<path d="M416.4 95.2L418.3 98.1" fill="none" stroke="#185e9c" stroke-width="0.9" opacity="0.563837839728282"/>
<circle cx="418.5" cy="98.3" r="1.0" stroke="#185e9c" stroke-width="0.7" opacity="0.8"/>
<path d="M420.8 95.1L423.0 98.6" fill="none" stroke="#12497c" stroke-width="0.9" opacity="0.7459258698334866"/>
<circle cx="420.6" cy="94.8" r="1.1" stroke="#12497c" stroke-width="0.7" opacity="0.8"/>
<path d="M421.9 96.9L424.8 95.3" fill="none" stroke="#12497c" stroke-width="0.8" opacity="0.7"/>
<path d="M426.5 93.8L428.5 97.4" fill="none" stroke="#15548a" stroke-width="0.9" opacity="0.5796016004039465"/>
<circle cx="428.7" cy="97.7" r="1.1" stroke="#15548a" stroke-width="0.7" opacity="0.8"/>
<path d="M427.5 95.6L431.4 95.7" fill="none" stroke="#15548a" stroke-width="0.8" opacity="0.7"/>
<path d="M391.7 99.0L394.4 102.6" fill="none" stroke="#12497c" stroke-width="0.9" opacity="0.8279271469176259"/>
<circle cx="391.5" cy="98.6" r="0.8" stroke="#12497c" stroke-width="0.7" opacity="0.8"/>
<path d="M396.4 99.2L398.2 103.1" fill="none" stroke="#185e9c" stroke-width="0.9" opacity="0.5877033985599492"/>
<circle cx="398.4" cy="103.5" r="0.9" stroke="#185e9c" stroke-width="0.7" opacity="0.8"/>
<path d="M397.3 101.2L400.0 99.7" fill="none" stroke="#185e9c" stroke-width="0.8" opacity="0.7"/>
<path d="M407.1 99.8L408.6 103.4" fill="none" stroke="#15548a" stroke-width="0.9" opacity="0.6790713604240064"/>
<path d="M411.0 98.1L412.5 102.6" fill="none" stroke="#1a66a8" stroke-width="0.9" opacity="0.713483411395491"/>
<circle cx="412.7" cy="103.0" r="0.9" stroke="#1a66a8" stroke-width="0.7" opacity="0.8"/>
<path d="M415.4 99.5L416.8 102.3" fill="none" stroke="#1a66a8" stroke-width="0.9" opacity="0.6167832507010789"/>
<circle cx="417.0" cy="102.5" r="1.2" stroke="#1a66a8" stroke-width="0.7" opacity="0.8"/>
<path d="M424.6 98.7L425.5 102.2" fill="none" stroke="#15548a" stroke-width="0.9" opacity="0.7702450089724736"/>
<circle cx="424.5" cy="98.4" r="1.0" stroke="#15548a" stroke-width="0.7" opacity="0.8"/>
<path d="M425.0 100.5L428.3 100.1" fill="none" stroke="#15548a" stroke-width="0.8" opacity="0.7"/>
<path d="M389.6 104.0L391.4 107.4" fill="none" stroke="#15548a" stroke-width="0.9" opacity="0.7742901440542787"/>
<path d="M394.4 103.8L395.7 107.2" fill="none" stroke="#1a66a8" stroke-width="0.9" opacity="0.6841425619600197"/>
<circle cx="395.8" cy="107.6" r="0.8" stroke="#1a66a8" stroke-width="0.7" opacity="0.8"/>
<path d="M400.1 103.6L401.7 107.1" fill="none" stroke="#15548a" stroke-width="0.9" opacity="0.6319496717568772"/>
<circle cx="401.9" cy="107.5" r="0.9" stroke="#15548a" stroke-width="0.7" opacity="0.8"/>
<path d="M404.5 105.2L405.9 107.9" fill="none" stroke="#185e9c" stroke-width="0.9" opacity="0.5897920369932588"/>
<path d="M405.2 106.5L408.1 106.0" fill="none" stroke="#185e9c" stroke-width="0.8" opacity="0.7"/>
<path d="M412.9 103.9L415.4 107.0" fill="none" stroke="#1a66a8" stroke-width="0.9" opacity="0.5036328478661702"/>
<circle cx="412.7" cy="103.6" r="0.8" stroke="#1a66a8" stroke-width="0.7" opacity="0.8"/>
<path d="M417.6 103.8L418.6 107.6" fill="none" stroke="#12497c" stroke-width="0.9" opacity="0.6540571828824641"/>
<circle cx="418.7" cy="108.0" r="1.1" stroke="#12497c" stroke-width="0.7" opacity="0.8"/>
<path d="M420.8 103.7L423.3 106.9" fill="none" stroke="#1a66a8" stroke-width="0.9" opacity="0.5386791063813422"/>
<path d="M392.3 108.8L393.1 112.6" fill="none" stroke="#15548a" stroke-width="0.9" opacity="0.5425254698907872"/>
<circle cx="392.3" cy="108.5" r="0.8" stroke="#15548a" stroke-width="0.7" opacity="0.8"/>
<path d="M392.7 110.7L395.9 111.1" fill="none" stroke="#15548a" stroke-width="0.8" opacity="0.7"/>
<path d="M401.6 109.3L403.8 112.3" fill="none" stroke="#15548a" stroke-width="0.9" opacity="0.5592951186858984"/>
<circle cx="401.4" cy="109.0" r="1.1" stroke="#15548a" stroke-width="0.7" opacity="0.8"/>
<path d="M404.6 107.9L407.6 111.6" fill="none" stroke="#15548a" stroke-width="0.9" opacity="0.70393174154624"/>
<path d="M411.4 108.1L412.3 111.7" fill="none" stroke="#15548a" stroke-width="0.9" opacity="0.8146037221211593"/>
<path d="M411.8 109.9L415.7 109.4" fill="none" stroke="#15548a" stroke-width="0.8" opacity="0.7"/>
<path d="M449.5 25.5L451.0 30.0L454.0 32.0L458.0 31.0L462.5 33.0L465.5 26.5L469.0 30.0L471.0 33.0L474.0 30.0L477.5 31.0" fill="none" stroke="#1a68ac" stroke-width="0.9" opacity="0.9"/>
<path d="M441.0 33.0L445.0 30.5L448.0 33.5L452.0 29.0L455.0 35.0L459.0 36.0" fill="none" stroke="#185d99" stroke-width="0.9" opacity="0.85"/>
<path d="M470.0 27.5L473.0 29.5L476.0 27.5L478.0 29.0" fill="none" stroke="#1a68ac" stroke-width="0.8" opacity="0.85"/>
<path d="M340.5 18.0C341.2 18.3 343.3 19.7 345.0 20.0C346.7 20.3 348.8 20.4 350.5 20.0C352.2 19.6 353.4 18.2 355.0 17.5C356.6 16.8 358.5 16.6 360.0 16.0C361.5 15.4 362.5 14.2 364.0 14.0C365.5 13.8 367.5 14.9 369.0 14.5C370.5 14.1 371.5 11.9 373.0 11.5C374.5 11.1 377.2 11.9 378.0 12.0" fill="none" stroke="#6aa864" stroke-width="1.3" opacity="0.92"/>
<path d="M345.0 20.0C345.3 20.8 346.2 23.4 347.0 24.5C347.8 25.6 348.9 27.2 349.5 26.5C350.1 25.8 350.3 21.1 350.5 20.0" fill="none" stroke="#5a9557" stroke-width="1.3" opacity="0.92"/>
<path d="M349.5 26.5C350.4 26.8 353.4 28.3 355.0 28.5C356.6 28.7 357.7 28.0 359.0 27.5C360.3 27.0 362.0 25.1 363.0 25.5C364.0 25.9 364.7 29.2 365.0 30.0" fill="none" stroke="#7fb876" stroke-width="1.3" opacity="0.92"/>
<path d="M349.5 26.5C349.1 27.2 347.8 29.1 347.0 30.5C346.2 31.9 345.8 33.6 345.0 35.0C344.2 36.4 342.8 37.7 342.0 39.0C341.2 40.3 340.3 42.3 340.0 43.0" fill="none" stroke="#6aa864" stroke-width="1.3" opacity="0.92"/>
<path d="M345.0 32.0C345.5 32.3 346.8 33.3 348.0 34.0C349.2 34.7 350.8 35.0 352.0 36.0C353.2 37.0 354.5 39.3 355.0 40.0" fill="none" stroke="#5a9557" stroke-width="1.3" opacity="0.92"/>
<path d="M341.0 36.0C341.5 36.3 343.0 37.2 344.0 38.0C345.0 38.8 346.0 40.0 347.0 41.0C348.0 42.0 349.5 43.5 350.0 44.0" fill="none" stroke="#7fb876" stroke-width="1.3" opacity="0.92"/>
<path d="M338.0 42.0C339.0 42.3 342.2 43.3 344.0 44.0C345.8 44.7 347.7 45.0 349.0 46.0C350.3 47.0 351.7 48.7 352.0 50.0C352.3 51.3 351.2 53.3 351.0 54.0" fill="none" stroke="#6aa864" stroke-width="1.3" opacity="0.92"/>
<path d="M352.0 50.0C353.0 50.8 356.5 53.7 358.0 55.0C359.5 56.3 359.8 57.7 361.0 58.0C362.2 58.3 363.5 57.3 365.0 57.0C366.5 56.7 368.2 56.3 370.0 56.0C371.8 55.7 374.0 54.8 376.0 55.0C378.0 55.2 381.0 56.7 382.0 57.0" fill="none" stroke="#5a9557" stroke-width="1.3" opacity="0.92"/>
<path d="M361.0 58.0C361.3 58.7 362.2 61.0 363.0 62.0C363.8 63.0 364.8 63.8 366.0 64.0C367.2 64.2 369.3 63.2 370.0 63.0" fill="none" stroke="#7fb876" stroke-width="1.3" opacity="0.92"/>
<path d="M349.0 69.0C349.8 69.3 352.3 71.0 354.0 71.0C355.7 71.0 357.7 69.7 359.0 69.0C360.3 68.3 360.8 67.0 362.0 67.0C363.2 67.0 365.3 68.7 366.0 69.0" fill="none" stroke="#6aa864" stroke-width="1.3" opacity="0.92"/>
<path d="M349.0 73.0C349.5 73.3 350.7 74.8 352.0 75.0C353.3 75.2 355.3 73.8 357.0 74.0C358.7 74.2 360.3 76.0 362.0 76.0C363.7 76.0 366.2 74.3 367.0 74.0" fill="none" stroke="#5a9557" stroke-width="1.3" opacity="0.92"/>
<path d="M352.5 76.0C353.2 76.5 355.8 78.1 357.0 79.0C358.2 79.9 359.8 80.3 360.0 81.5C360.2 82.7 358.0 84.6 358.0 86.0C358.0 87.4 359.3 88.8 360.0 90.0C360.7 91.2 361.8 91.9 362.0 93.0C362.2 94.1 360.8 95.5 361.0 96.5C361.2 97.5 362.7 98.6 363.0 99.0" fill="none" stroke="#7fb876" stroke-width="1.3" opacity="0.92"/>
<path d="M360.0 81.5L364.0 80.0" fill="none" stroke="#6aa864" stroke-width="1.3" opacity="0.92"/>
<path d="M357.0 84.0C356.5 84.5 354.2 86.0 354.0 87.0C353.8 88.0 355.7 89.5 356.0 90.0" fill="none" stroke="#5a9557" stroke-width="1.3" opacity="0.92"/>
<path d="M388.0 27.0C388.7 26.3 390.5 24.3 392.0 23.0C393.5 21.7 395.7 20.4 397.0 19.0C398.3 17.6 398.8 15.2 400.0 14.5C401.2 13.8 402.9 13.9 404.0 14.5C405.1 15.1 406.2 16.8 406.5 18.0C406.8 19.2 405.8 20.8 406.0 22.0C406.2 23.2 407.2 24.2 408.0 25.0C408.8 25.8 410.2 25.8 411.0 27.0C411.8 28.2 412.8 30.2 413.0 32.0C413.2 33.8 411.8 36.2 412.0 38.0C412.2 39.8 413.7 42.2 414.0 43.0" fill="none" stroke="#7fb876" stroke-width="1.3" opacity="0.92"/>
<path d="M393.0 18.0C393.8 17.9 396.3 17.4 398.0 17.5C399.7 17.6 401.6 18.4 403.0 18.5C404.4 18.6 405.9 18.1 406.5 18.0" fill="none" stroke="#6aa864" stroke-width="1.3" opacity="0.92"/>
<path d="M388.0 27.0C388.8 27.3 391.3 29.0 393.0 29.0C394.7 29.0 396.8 27.8 398.0 27.0C399.2 26.2 400.2 24.8 400.0 24.0C399.8 23.2 397.8 21.8 397.0 22.0C396.2 22.2 395.0 24.0 395.0 25.0C395.0 26.0 396.7 27.5 397.0 28.0" fill="none" stroke="#5a9557" stroke-width="1.3" opacity="0.92"/>
<path d="M406.0 22.0C406.7 21.8 408.7 21.1 410.0 21.0C411.3 20.9 413.3 21.4 414.0 21.5" fill="none" stroke="#7fb876" stroke-width="1.3" opacity="0.92"/>
<path d="M413.0 32.0C413.7 32.5 415.7 34.7 417.0 35.0C418.3 35.3 419.8 34.3 421.0 34.0C422.2 33.7 423.2 32.8 424.0 33.0C424.8 33.2 425.7 34.7 426.0 35.0" fill="none" stroke="#6aa864" stroke-width="1.3" opacity="0.92"/>
<path d="M417.0 22.0C416.7 23.0 415.7 26.3 415.0 28.0C414.3 29.7 413.3 31.3 413.0 32.0" fill="none" stroke="#5a9557" stroke-width="1.3" opacity="0.92"/>
<path d="M380.0 53.0C380.3 53.8 381.0 56.3 382.0 58.0C383.0 59.7 384.7 62.7 386.0 63.0C387.3 63.3 388.5 61.0 390.0 60.0C391.5 59.0 393.3 57.7 395.0 57.0C396.7 56.3 399.2 56.2 400.0 56.0" fill="none" stroke="#7fb876" stroke-width="1.3" opacity="0.92"/>
<path d="M405.0 55.0C405.8 55.2 408.5 56.0 410.0 56.0C411.5 56.0 412.5 55.0 414.0 55.0C415.5 55.0 418.2 55.8 419.0 56.0" fill="none" stroke="#6aa864" stroke-width="1.3" opacity="0.92"/>
<path d="M404.0 46.0C404.8 46.2 407.7 47.2 409.0 47.0C410.3 46.8 411.0 45.8 412.0 45.0C413.0 44.2 414.0 42.7 415.0 42.0C416.0 41.3 417.5 41.2 418.0 41.0" fill="none" stroke="#5a9557" stroke-width="1.3" opacity="0.92"/>
<path d="M400.0 56.0C399.7 56.8 397.7 59.8 398.0 61.0C398.3 62.2 400.7 63.0 402.0 63.0C403.3 63.0 405.3 61.3 406.0 61.0" fill="none" stroke="#7fb876" stroke-width="1.3" opacity="0.92"/>
<path d="M398.0 61.0C397.5 61.8 395.2 64.7 395.0 66.0C394.8 67.3 396.7 68.5 397.0 69.0" fill="none" stroke="#6aa864" stroke-width="1.3" opacity="0.92"/>
<path d="M429.0 48.0C429.3 48.5 430.8 50.0 431.0 51.0C431.2 52.0 430.2 53.5 430.0 54.0" fill="none" stroke="#5a9557" stroke-width="1.3" opacity="0.92"/>
<path d="M407.0 36.0C407.5 36.7 409.8 38.7 410.0 40.0C410.2 41.3 407.8 42.7 408.0 44.0C408.2 45.3 410.5 47.3 411.0 48.0" fill="none" stroke="#7fb876" stroke-width="1.3" opacity="0.92"/>
<path d="M414.0 43.0C414.7 43.5 416.8 44.8 418.0 46.0C419.2 47.2 419.8 49.0 421.0 50.0C422.2 51.0 424.3 51.7 425.0 52.0" fill="none" stroke="#6aa864" stroke-width="1.3" opacity="0.92"/>
<path d="M376.0 58.0C376.7 58.5 379.7 59.8 380.0 61.0C380.3 62.2 377.8 63.8 378.0 65.0C378.2 66.2 380.5 67.5 381.0 68.0" fill="none" stroke="#5a9557" stroke-width="1.3" opacity="0.92"/>
<path d="M368.0 70.0C368.7 70.3 370.3 71.8 372.0 72.0C373.7 72.2 376.3 70.7 378.0 71.0C379.7 71.3 381.3 73.5 382.0 74.0" fill="none" stroke="#7fb876" stroke-width="1.3" opacity="0.92"/>
<path d="M345.6 32.4C345.3 32.2 344.3 31.0 343.5 30.8C342.8 30.7 341.8 31.4 341.0 31.3C340.1 31.2 339.3 30.3 338.5 30.5C337.7 30.6 336.8 31.8 336.4 32.1" fill="none" stroke="#5a9557" stroke-width="1.0" opacity="0.85"/>
<path d="M344.8 41.8C345.1 42.1 346.4 42.7 346.8 43.4C347.2 44.1 347.3 45.2 347.1 46.0C346.8 46.8 345.7 47.3 345.5 48.1C345.3 48.9 345.9 50.2 346.0 50.6" fill="none" stroke="#6aa864" stroke-width="1.0" opacity="0.85"/>
<path d="M342.2 38.8C341.8 38.7 340.5 38.0 339.7 38.0C338.9 38.0 338.0 39.1 337.3 38.9C336.6 38.8 336.0 37.8 335.3 37.2C334.7 36.7 333.7 35.8 333.4 35.5" fill="none" stroke="#4f8a4c" stroke-width="1.0" opacity="0.85"/>
<path d="M346.1 38.7C346.2 39.1 346.3 40.5 346.8 41.2C347.2 41.9 348.4 42.2 348.7 42.9C348.9 43.7 348.5 44.7 348.3 45.5C348.1 46.4 347.6 47.6 347.5 48.0" fill="none" stroke="#5a9557" stroke-width="1.0" opacity="0.85"/>
<path d="M343.3 34.8C342.9 34.8 341.4 35.1 340.7 34.8C340.0 34.5 339.8 33.1 339.1 32.8C338.4 32.4 337.3 32.8 336.5 32.8C335.6 32.8 334.3 32.8 333.9 32.8" fill="none" stroke="#6aa864" stroke-width="1.0" opacity="0.85"/>
<path d="M342.2 28.2C342.2 27.8 341.8 26.5 341.9 25.6C341.9 24.8 342.2 23.9 342.5 23.1C342.8 22.3 343.4 21.5 343.5 20.7C343.7 19.9 343.4 18.6 343.4 18.1" fill="none" stroke="#4f8a4c" stroke-width="1.0" opacity="0.85"/>
<path d="M344.0 32.4C343.9 32.8 343.2 34.0 343.1 34.8C342.9 35.7 343.3 36.6 343.2 37.4C343.0 38.3 342.2 39.1 342.3 39.9C342.4 40.7 343.5 41.7 343.7 42.0" fill="none" stroke="#5a9557" stroke-width="1.0" opacity="0.85"/>
<path d="M341.9 27.0C341.5 27.2 340.0 27.6 339.6 28.2C339.2 28.9 339.3 30.0 339.5 30.8C339.6 31.7 340.0 32.6 340.5 33.2C341.1 33.8 342.4 34.3 342.8 34.5" fill="none" stroke="#6aa864" stroke-width="1.0" opacity="0.85"/>
<path d="M349.4 37.8C349.4 38.3 349.8 39.8 349.4 40.4C349.1 41.1 348.1 41.7 347.3 41.9C346.5 42.2 345.4 42.2 344.7 41.8C344.0 41.5 343.5 40.1 343.2 39.7" fill="none" stroke="#4f8a4c" stroke-width="1.0" opacity="0.85"/>
<path d="M407.8 23.9C408.2 24.2 409.4 24.8 409.9 25.4C410.5 26.0 411.0 26.9 411.3 27.7C411.5 28.5 411.4 29.4 411.6 30.2C411.9 31.1 412.6 32.1 412.9 32.5" fill="none" stroke="#5a9557" stroke-width="1.0" opacity="0.85"/>
<path d="M396.7 31.7C396.3 31.4 395.0 30.8 394.6 30.1C394.2 29.4 394.6 28.3 394.4 27.5C394.2 26.7 393.5 26.0 393.3 25.2C393.0 24.3 393.0 23.0 392.9 22.6" fill="none" stroke="#6aa864" stroke-width="1.0" opacity="0.85"/>
<path d="M406.7 30.4C407.1 30.4 408.5 30.2 409.3 30.4C410.1 30.7 410.8 31.7 411.5 31.7C412.3 31.7 413.4 31.0 413.7 30.3C414.0 29.6 413.5 28.2 413.4 27.7" fill="none" stroke="#4f8a4c" stroke-width="1.0" opacity="0.85"/>
<path d="M407.8 31.2C407.8 31.6 407.3 33.1 407.7 33.8C408.0 34.4 409.1 34.8 409.9 35.0C410.8 35.3 411.7 35.0 412.5 35.2C413.4 35.4 414.5 36.0 414.9 36.2" fill="none" stroke="#5a9557" stroke-width="1.0" opacity="0.85"/>
<path d="M409.7 36.1C409.5 35.8 408.9 34.5 408.2 34.0C407.6 33.5 406.6 33.3 405.8 33.0C405.0 32.8 404.0 32.8 403.3 32.5C402.5 32.1 401.5 31.2 401.2 30.9" fill="none" stroke="#6aa864" stroke-width="1.0" opacity="0.85"/>
<path d="M404.8 27.3C405.2 27.1 406.5 26.8 407.2 26.3C407.9 25.8 408.7 25.0 408.8 24.3C408.9 23.6 407.8 22.7 407.8 21.9C407.8 21.1 408.7 20.0 408.9 19.6" fill="none" stroke="#4f8a4c" stroke-width="1.0" opacity="0.85"/>
<path d="M403.0 25.5C403.3 25.8 404.6 26.3 405.1 27.0C405.6 27.6 405.3 28.8 405.8 29.5C406.3 30.2 407.6 30.3 407.9 31.0C408.3 31.6 407.9 33.1 407.8 33.6" fill="none" stroke="#5a9557" stroke-width="1.0" opacity="0.85"/>
<path d="M405.0 23.8C404.7 23.4 403.8 22.4 403.5 21.6C403.3 20.8 403.2 19.8 403.5 19.0C403.8 18.3 404.9 17.9 405.3 17.2C405.7 16.5 405.9 15.1 406.0 14.7" fill="none" stroke="#6aa864" stroke-width="1.0" opacity="0.85"/>
<path d="M414.9 32.7C414.5 32.5 413.2 32.0 412.6 31.4C412.1 30.8 411.5 30.0 411.3 29.2C411.1 28.4 411.0 27.3 411.3 26.6C411.6 25.8 412.9 25.1 413.2 24.8" fill="none" stroke="#4f8a4c" stroke-width="1.0" opacity="0.85"/>
<path d="M399.4 21.7C399.7 22.0 400.5 23.0 401.2 23.6C401.8 24.1 402.6 24.6 403.3 25.1C403.9 25.7 405.0 26.0 405.3 26.7C405.6 27.4 405.0 28.9 405.0 29.3" fill="none" stroke="#5a9557" stroke-width="1.0" opacity="0.85"/>
<path d="M412.3 33.9C412.6 34.2 413.8 35.0 414.2 35.7C414.5 36.4 414.1 37.5 414.4 38.3C414.7 39.1 415.5 39.6 415.9 40.4C416.4 41.1 417.0 42.2 417.3 42.6" fill="none" stroke="#6aa864" stroke-width="1.0" opacity="0.85"/>
<path d="M414.4 25.3C414.0 25.5 412.4 25.6 411.9 26.2C411.4 26.7 411.5 27.9 411.5 28.7C411.4 29.6 411.6 30.4 411.8 31.3C412.1 32.1 412.6 33.3 412.8 33.7" fill="none" stroke="#4f8a4c" stroke-width="1.0" opacity="0.85"/>
<path d="M406.3 58.3C406.4 58.7 406.9 59.9 406.9 60.8C406.9 61.6 406.3 62.5 406.4 63.3C406.5 64.2 406.9 65.1 407.5 65.7C408.1 66.3 409.4 66.8 409.8 67.0" fill="none" stroke="#5a9557" stroke-width="1.0" opacity="0.85"/>
<path d="M394.7 53.5C395.0 53.2 396.1 52.4 396.6 51.7C397.0 51.0 396.9 49.8 397.4 49.2C398.0 48.7 399.3 49.0 399.9 48.4C400.5 47.9 400.7 46.4 400.9 46.0" fill="none" stroke="#6aa864" stroke-width="1.0" opacity="0.85"/>
<path d="M396.5 52.2C396.8 51.8 397.2 50.5 397.9 50.0C398.5 49.4 399.7 49.5 400.2 48.9C400.8 48.3 400.7 47.2 401.1 46.5C401.6 45.8 402.6 44.9 402.9 44.6" fill="none" stroke="#4f8a4c" stroke-width="1.0" opacity="0.85"/>
<path d="M396.3 50.8C396.6 50.6 398.0 49.9 398.3 49.2C398.6 48.5 398.5 47.4 398.2 46.6C398.0 45.8 397.4 45.0 396.9 44.4C396.3 43.7 395.2 43.0 394.9 42.7" fill="none" stroke="#5a9557" stroke-width="1.0" opacity="0.85"/>
<path d="M404.9 55.9C405.1 56.3 406.0 57.3 406.3 58.1C406.5 58.9 406.3 59.9 406.4 60.7C406.5 61.6 406.4 62.7 406.8 63.3C407.3 63.9 408.8 64.3 409.1 64.5" fill="none" stroke="#6aa864" stroke-width="1.0" opacity="0.85"/>
<path d="M399.7 58.9C399.7 59.3 399.5 60.9 399.9 61.5C400.3 62.1 401.5 62.7 402.2 62.6C403.0 62.5 403.5 61.0 404.2 60.9C404.9 60.8 406.1 61.9 406.5 62.1" fill="none" stroke="#4f8a4c" stroke-width="1.0" opacity="0.85"/>
<path d="M404.0 51.7C404.4 51.4 405.4 50.6 406.1 50.2C406.9 49.7 408.0 49.6 408.4 49.0C408.9 48.4 408.7 47.3 408.9 46.4C409.0 45.6 409.1 44.3 409.2 43.8" fill="none" stroke="#5a9557" stroke-width="1.0" opacity="0.85"/>
<path d="M398.4 55.4C398.1 55.7 397.5 57.2 396.8 57.5C396.1 57.8 395.1 57.4 394.2 57.2C393.4 57.0 392.6 56.6 391.9 56.1C391.2 55.6 390.3 54.6 390.0 54.3" fill="none" stroke="#6aa864" stroke-width="1.0" opacity="0.85"/>
<path d="M414.4 51.4C414.6 51.8 415.2 53.2 415.9 53.6C416.5 54.0 417.8 54.2 418.4 53.9C419.1 53.5 419.2 52.2 419.8 51.6C420.4 51.1 421.8 50.8 422.2 50.7" fill="none" stroke="#4f8a4c" stroke-width="1.0" opacity="0.85"/>
<path d="M408.1 50.3C408.1 50.7 408.5 52.2 408.3 52.9C408.0 53.7 407.2 54.6 406.5 54.8C405.7 55.0 404.7 54.1 403.9 54.3C403.1 54.4 402.1 55.5 401.8 55.7" fill="none" stroke="#5a9557" stroke-width="1.0" opacity="0.85"/>
<path d="M366.4 56.4C366.2 56.0 365.8 54.6 365.2 54.1C364.6 53.6 363.3 53.8 362.8 53.2C362.2 52.7 362.2 51.5 361.6 50.9C361.1 50.2 360.0 49.5 359.7 49.2" fill="none" stroke="#6aa864" stroke-width="1.0" opacity="0.85"/>
<path d="M358.0 75.1C357.5 75.1 356.1 74.9 355.4 75.2C354.6 75.4 353.6 76.1 353.3 76.7C353.0 77.4 353.7 78.4 353.8 79.3C353.9 80.2 353.8 81.5 353.8 81.9" fill="none" stroke="#4f8a4c" stroke-width="1.0" opacity="0.85"/>
<path d="M356.5 59.5C356.8 59.2 357.4 57.8 358.1 57.5C358.8 57.3 359.8 57.8 360.7 58.0C361.5 58.2 362.4 58.3 363.2 58.5C364.1 58.6 365.4 58.8 365.8 58.9" fill="none" stroke="#5a9557" stroke-width="1.0" opacity="0.85"/>
<path d="M367.6 73.9C367.2 74.2 366.1 75.0 365.3 75.2C364.5 75.4 363.4 75.0 362.7 75.3C362.0 75.7 361.5 76.6 361.0 77.3C360.5 78.0 359.8 79.1 359.6 79.4" fill="none" stroke="#6aa864" stroke-width="1.0" opacity="0.85"/>
<path d="M367.5 67.3C368.0 67.3 369.3 67.8 370.1 67.5C370.9 67.3 371.4 66.3 372.2 66.0C373.0 65.7 374.2 66.2 374.8 65.7C375.3 65.3 375.4 63.6 375.5 63.2" fill="none" stroke="#4f8a4c" stroke-width="1.0" opacity="0.85"/>
<path d="M370.0 57.9C370.0 57.4 370.3 56.1 370.1 55.3C370.0 54.5 369.2 53.8 369.0 53.0C368.7 52.1 368.8 51.2 368.8 50.4C368.7 49.5 368.7 48.2 368.6 47.8" fill="none" stroke="#5a9557" stroke-width="1.0" opacity="0.85"/>
<path d="M357.9 71.6C357.4 71.6 356.0 71.9 355.3 71.6C354.5 71.2 353.7 70.4 353.4 69.7C353.2 69.0 354.1 67.9 353.9 67.2C353.8 66.4 352.7 65.4 352.4 65.0" fill="none" stroke="#6aa864" stroke-width="1.0" opacity="0.85"/>
<path d="M361.7 76.3C361.3 76.3 359.9 75.9 359.1 76.2C358.4 76.5 357.4 77.2 357.1 77.9C356.9 78.6 357.2 79.7 357.5 80.5C357.7 81.3 358.6 82.3 358.8 82.7" fill="none" stroke="#4f8a4c" stroke-width="1.0" opacity="0.85"/>
<path d="M352.5 71.1C352.9 71.3 354.5 71.4 355.0 71.9C355.5 72.5 355.7 73.8 355.4 74.5C355.0 75.2 354.0 75.6 353.2 76.0C352.4 76.3 351.1 76.6 350.7 76.7" fill="none" stroke="#5a9557" stroke-width="1.0" opacity="0.85"/>
<path d="M365.1 65.0C365.0 64.6 364.9 63.3 364.6 62.5C364.2 61.7 363.4 61.2 362.9 60.5C362.4 59.8 361.6 59.0 361.7 58.2C361.7 57.5 362.8 56.4 363.1 56.0" fill="none" stroke="#6aa864" stroke-width="1.0" opacity="0.85"/>
<path d="M354.4 69.3C354.4 69.7 354.9 71.1 354.6 71.9C354.3 72.6 352.8 72.9 352.6 73.6C352.4 74.3 352.8 75.4 353.3 76.1C353.8 76.7 355.2 77.2 355.5 77.4" fill="none" stroke="#4f8a4c" stroke-width="1.0" opacity="0.85"/>
<path d="M360.5 60.2C360.8 60.5 361.5 61.6 362.1 62.2C362.7 62.8 363.6 63.2 364.2 63.7C364.9 64.3 365.4 65.0 366.0 65.6C366.7 66.2 367.8 66.8 368.2 67.1" fill="none" stroke="#5a9557" stroke-width="1.0" opacity="0.85"/>
<path d="M355.1 66.2C355.1 66.6 354.9 68.0 355.2 68.8C355.5 69.5 356.7 69.9 357.0 70.6C357.2 71.4 356.7 72.4 356.6 73.2C356.4 74.0 356.0 75.3 355.8 75.7" fill="none" stroke="#6aa864" stroke-width="1.0" opacity="0.85"/>
<path d="M372.5 75.8C372.8 76.1 373.9 76.8 374.6 77.3C375.3 77.9 375.8 78.7 376.6 79.0C377.4 79.3 378.3 79.2 379.2 79.3C380.0 79.3 381.3 79.4 381.8 79.4" fill="none" stroke="#4f8a4c" stroke-width="1.0" opacity="0.85"/>
<path d="M358.7 89.9C358.3 90.1 357.1 90.7 356.3 91.1C355.6 91.5 354.8 91.9 354.0 92.2C353.2 92.5 352.0 92.3 351.5 92.8C350.9 93.3 350.7 94.8 350.6 95.2" fill="none" stroke="#5a9557" stroke-width="1.0" opacity="0.85"/>
<path d="M359.3 92.0C358.9 91.8 357.8 91.3 357.0 90.8C356.3 90.4 355.4 90.0 354.9 89.3C354.4 88.7 353.9 87.8 353.8 87.0C353.7 86.1 354.2 84.8 354.2 84.4" fill="none" stroke="#6aa864" stroke-width="1.0" opacity="0.85"/>
<path d="M362.2 95.6C361.9 95.4 360.4 95.1 359.9 94.5C359.4 93.9 359.4 92.8 359.0 92.0C358.6 91.3 358.2 90.3 357.6 89.9C356.9 89.5 355.4 89.5 355.0 89.4" fill="none" stroke="#4f8a4c" stroke-width="1.0" opacity="0.85"/>
<path d="M362.2 89.7C361.9 89.4 360.8 88.5 360.5 87.7C360.2 87.0 360.8 85.8 360.3 85.1C359.9 84.5 358.8 84.1 358.0 84.0C357.2 83.9 355.9 84.4 355.4 84.4" fill="none" stroke="#5a9557" stroke-width="1.0" opacity="0.85"/>
<path d="M419.4 42.5C419.0 42.6 417.6 42.5 416.8 42.8C416.0 43.1 415.4 43.9 414.6 44.2C413.8 44.5 412.9 44.3 412.0 44.4C411.2 44.5 409.9 44.9 409.5 45.1" fill="none" stroke="#6aa864" stroke-width="1.0" opacity="0.85"/>
<path d="M424.2 39.0C424.6 38.7 425.5 37.5 426.3 37.4C427.0 37.3 428.2 37.7 428.7 38.3C429.3 38.8 429.0 40.1 429.6 40.7C430.1 41.3 431.5 41.7 431.9 41.8" fill="none" stroke="#4f8a4c" stroke-width="1.0" opacity="0.85"/>
<path d="M419.9 38.5C420.1 38.1 420.5 36.7 421.2 36.2C421.8 35.7 423.1 36.1 423.7 35.5C424.3 35.0 424.5 34.0 424.7 33.1C424.9 32.3 424.9 31.0 424.9 30.6" fill="none" stroke="#5a9557" stroke-width="1.0" opacity="0.85"/>
<path d="M419.5 36.2C419.0 36.0 417.8 35.8 417.0 35.4C416.2 35.1 415.5 34.1 414.7 34.1C414.0 34.0 413.2 34.8 412.4 35.1C411.6 35.4 410.3 35.7 409.9 35.9" fill="none" stroke="#6aa864" stroke-width="1.0" opacity="0.85"/>
<path d="M420.8 40.1C421.2 40.1 422.6 40.2 423.4 40.0C424.1 39.7 425.0 39.1 425.5 38.4C425.9 37.7 425.8 36.7 426.0 35.9C426.1 35.0 426.1 33.7 426.1 33.3" fill="none" stroke="#4f8a4c" stroke-width="1.0" opacity="0.85"/>
<circle cx="363.0" cy="13.2" r="0.55" fill="#2a62b0" stroke="none" opacity="0.85"/>
<circle cx="373.1" cy="11.1" r="0.55" fill="#b02a20" stroke="none" opacity="0.85"/>
<circle cx="364.0" cy="26.0" r="0.55" fill="#2a62b0" stroke="none" opacity="0.85"/>
<circle cx="341.7" cy="38.3" r="0.55" fill="#b02a20" stroke="none" opacity="0.85"/>
<circle cx="347.1" cy="34.7" r="0.55" fill="#b02a20" stroke="none" opacity="0.85"/>
<circle cx="355.6" cy="40.4" r="0.55" fill="#2a62b0" stroke="none" opacity="0.85"/>
<circle cx="351.5" cy="50.9" r="0.55" fill="#b02a20" stroke="none" opacity="0.85"/>
<circle cx="357.7" cy="54.4" r="0.55" fill="#b02a20" stroke="none" opacity="0.85"/>
<circle cx="375.3" cy="54.7" r="0.55" fill="#2a62b0" stroke="none" opacity="0.85"/>
<circle cx="362.9" cy="62.9" r="0.55" fill="#2a62b0" stroke="none" opacity="0.85"/>
<circle cx="370.2" cy="62.7" r="0.55" fill="#b02a20" stroke="none" opacity="0.85"/>
<circle cx="354.8" cy="71.2" r="0.55" fill="#b02a20" stroke="none" opacity="0.85"/>
<circle cx="362.3" cy="66.5" r="0.55" fill="#2a62b0" stroke="none" opacity="0.85"/>
<circle cx="353.0" cy="74.7" r="0.55" fill="#b02a20" stroke="none" opacity="0.85"/>
<circle cx="362.1" cy="93.5" r="0.55" fill="#b02a20" stroke="none" opacity="0.85"/>
<circle cx="391.6" cy="23.6" r="0.55" fill="#b02a20" stroke="none" opacity="0.85"/>
<circle cx="407.0" cy="18.5" r="0.55" fill="#b02a20" stroke="none" opacity="0.85"/>
<circle cx="413.7" cy="32.4" r="0.55" fill="#2a62b0" stroke="none" opacity="0.85"/>
<circle cx="413.7" cy="42.6" r="0.55" fill="#2a62b0" stroke="none" opacity="0.85"/>
<circle cx="394.4" cy="25.8" r="0.55" fill="#b02a20" stroke="none" opacity="0.85"/>
<circle cx="409.9" cy="21.1" r="0.55" fill="#2a62b0" stroke="none" opacity="0.85"/>
<circle cx="415.4" cy="27.5" r="0.55" fill="#b02a20" stroke="none" opacity="0.85"/>
<circle cx="400.8" cy="56.2" r="0.55" fill="#b02a20" stroke="none" opacity="0.85"/>
<circle cx="418.7" cy="55.9" r="0.55" fill="#b02a20" stroke="none" opacity="0.85"/>
<circle cx="409.7" cy="46.1" r="0.55" fill="#2a62b0" stroke="none" opacity="0.85"/>
<circle cx="414.4" cy="42.8" r="0.55" fill="#b02a20" stroke="none" opacity="0.85"/>
<circle cx="397.3" cy="60.5" r="0.55" fill="#b02a20" stroke="none" opacity="0.85"/>
<circle cx="405.1" cy="60.9" r="0.55" fill="#b02a20" stroke="none" opacity="0.85"/>
<circle cx="395.0" cy="65.2" r="0.55" fill="#b02a20" stroke="none" opacity="0.85"/>
<circle cx="418.6" cy="46.8" r="0.55" fill="#2a62b0" stroke="none" opacity="0.85"/>
<circle cx="379.5" cy="61.3" r="0.55" fill="#b02a20" stroke="none" opacity="0.85"/>
<circle cx="381.7" cy="74.5" r="0.55" fill="#b02a20" stroke="none" opacity="0.85"/>
<circle cx="343.8" cy="31.4" r="0.55" fill="#b02a20" stroke="none" opacity="0.85"/>
<circle cx="338.3" cy="29.6" r="0.55" fill="#b02a20" stroke="none" opacity="0.85"/>
<circle cx="336.2" cy="38.0" r="0.55" fill="#b02a20" stroke="none" opacity="0.85"/>
<circle cx="336.7" cy="33.3" r="0.55" fill="#2a62b0" stroke="none" opacity="0.85"/>
<circle cx="340.9" cy="25.1" r="0.55" fill="#b02a20" stroke="none" opacity="0.85"/>
<circle cx="343.7" cy="34.7" r="0.55" fill="#b02a20" stroke="none" opacity="0.85"/>
<circle cx="341.5" cy="33.4" r="0.55" fill="#b02a20" stroke="none" opacity="0.85"/>
<circle cx="345.1" cy="42.4" r="0.55" fill="#b02a20" stroke="none" opacity="0.85"/>
<circle cx="410.5" cy="26.4" r="0.55" fill="#2a62b0" stroke="none" opacity="0.85"/>
<circle cx="394.7" cy="29.6" r="0.55" fill="#2a62b0" stroke="none" opacity="0.85"/>
<circle cx="393.2" cy="25.5" r="0.55" fill="#2a62b0" stroke="none" opacity="0.85"/>
<circle cx="409.6" cy="30.2" r="0.55" fill="#b02a20" stroke="none" opacity="0.85"/>
<circle cx="412.6" cy="34.6" r="0.55" fill="#b02a20" stroke="none" opacity="0.85"/>
<circle cx="408.4" cy="34.5" r="0.55" fill="#b02a20" stroke="none" opacity="0.85"/>
<circle cx="408.3" cy="30.9" r="0.55" fill="#2a62b0" stroke="none" opacity="0.85"/>
<circle cx="404.3" cy="22.4" r="0.55" fill="#2a62b0" stroke="none" opacity="0.85"/>
<circle cx="405.0" cy="18.0" r="0.55" fill="#b02a20" stroke="none" opacity="0.85"/>
<circle cx="411.9" cy="27.4" r="0.55" fill="#b02a20" stroke="none" opacity="0.85"/>
<circle cx="405.4" cy="26.6" r="0.55" fill="#2a62b0" stroke="none" opacity="0.85"/>
<circle cx="411.4" cy="25.7" r="0.55" fill="#2a62b0" stroke="none" opacity="0.85"/>
<circle cx="411.6" cy="30.9" r="0.55" fill="#2a62b0" stroke="none" opacity="0.85"/>
<circle cx="408.5" cy="65.1" r="0.55" fill="#b02a20" stroke="none" opacity="0.85"/>
<circle cx="400.8" cy="49.0" r="0.55" fill="#b02a20" stroke="none" opacity="0.85"/>
<circle cx="400.8" cy="46.4" r="0.55" fill="#b02a20" stroke="none" opacity="0.85"/>
<circle cx="398.7" cy="49.4" r="0.55" fill="#2a62b0" stroke="none" opacity="0.85"/>
<circle cx="396.0" cy="44.9" r="0.55" fill="#b02a20" stroke="none" opacity="0.85"/>
<circle cx="406.8" cy="58.9" r="0.55" fill="#b02a20" stroke="none" opacity="0.85"/>
<circle cx="406.1" cy="64.2" r="0.55" fill="#b02a20" stroke="none" opacity="0.85"/>
<circle cx="399.1" cy="62.4" r="0.55" fill="#b02a20" stroke="none" opacity="0.85"/>
<circle cx="403.8" cy="60.9" r="0.55" fill="#2a62b0" stroke="none" opacity="0.85"/>
<circle cx="405.5" cy="50.5" r="0.55" fill="#b02a20" stroke="none" opacity="0.85"/>
<circle cx="409.1" cy="46.7" r="0.55" fill="#2a62b0" stroke="none" opacity="0.85"/>
<circle cx="415.3" cy="54.2" r="0.55" fill="#b02a20" stroke="none" opacity="0.85"/>
<circle cx="419.0" cy="51.8" r="0.55" fill="#b02a20" stroke="none" opacity="0.85"/>
<circle cx="407.5" cy="52.0" r="0.55" fill="#2a62b0" stroke="none" opacity="0.85"/>
<circle cx="403.1" cy="55.2" r="0.55" fill="#b02a20" stroke="none" opacity="0.85"/>
<circle cx="361.1" cy="50.9" r="0.55" fill="#b02a20" stroke="none" opacity="0.85"/>
<circle cx="357.8" cy="57.5" r="0.55" fill="#b02a20" stroke="none" opacity="0.85"/>
<circle cx="362.7" cy="59.4" r="0.55" fill="#b02a20" stroke="none" opacity="0.85"/>
<circle cx="360.4" cy="76.8" r="0.55" fill="#b02a20" stroke="none" opacity="0.85"/>
<circle cx="373.9" cy="66.3" r="0.55" fill="#2a62b0" stroke="none" opacity="0.85"/>
<circle cx="369.8" cy="54.4" r="0.55" fill="#2a62b0" stroke="none" opacity="0.85"/>
<circle cx="352.8" cy="75.8" r="0.55" fill="#b02a20" stroke="none" opacity="0.85"/>
<circle cx="364.4" cy="62.3" r="0.55" fill="#b02a20" stroke="none" opacity="0.85"/>
<circle cx="353.3" cy="77.0" r="0.55" fill="#b02a20" stroke="none" opacity="0.85"/>
<circle cx="365.5" cy="65.0" r="0.55" fill="#b02a20" stroke="none" opacity="0.85"/>
<circle cx="355.4" cy="67.8" r="0.55" fill="#b02a20" stroke="none" opacity="0.85"/>
<circle cx="356.9" cy="72.8" r="0.55" fill="#b02a20" stroke="none" opacity="0.85"/>
<circle cx="374.9" cy="77.2" r="0.55" fill="#b02a20" stroke="none" opacity="0.85"/>
<circle cx="379.7" cy="80.0" r="0.55" fill="#b02a20" stroke="none" opacity="0.85"/>
<circle cx="356.4" cy="90.8" r="0.55" fill="#b02a20" stroke="none" opacity="0.85"/>
<circle cx="352.9" cy="87.9" r="0.55" fill="#2a62b0" stroke="none" opacity="0.85"/>
<circle cx="360.7" cy="87.8" r="0.55" fill="#b02a20" stroke="none" opacity="0.85"/>
<circle cx="412.7" cy="45.1" r="0.55" fill="#2a62b0" stroke="none" opacity="0.85"/>
<circle cx="429.0" cy="40.0" r="0.55" fill="#b02a20" stroke="none" opacity="0.85"/>
<circle cx="420.6" cy="35.6" r="0.55" fill="#2a62b0" stroke="none" opacity="0.85"/>
<circle cx="424.0" cy="33.8" r="0.55" fill="#2a62b0" stroke="none" opacity="0.85"/>
<circle cx="417.9" cy="36.1" r="0.55" fill="#b02a20" stroke="none" opacity="0.85"/>
<circle cx="423.1" cy="40.6" r="0.55" fill="#2a62b0" stroke="none" opacity="0.85"/>
<circle cx="425.3" cy="35.4" r="0.55" fill="#b02a20" stroke="none" opacity="0.85"/>
<path d="M354.0 35.0C354.7 34.8 356.7 33.7 358.0 33.5C359.3 33.3 361.0 33.2 362.0 34.0C363.0 34.8 363.6 36.5 364.0 38.0C364.4 39.5 365.0 41.7 364.5 43.0C364.0 44.3 362.1 45.8 361.0 46.0C359.9 46.2 358.7 45.0 358.0 44.0C357.3 43.0 357.2 40.7 357.0 40.0Z" fill="#9adf8c" stroke="#68b060" stroke-width="0.5" opacity="0.95"/>
<path d="M353.0 41.0C353.5 40.8 355.1 39.2 356.0 40.0C356.9 40.8 358.3 44.2 358.5 46.0C358.7 47.8 357.8 50.5 357.0 51.0C356.2 51.5 354.5 49.3 354.0 49.0Z" fill="#7cc772" stroke="#68b060" stroke-width="0.5" opacity="0.95"/>
<path d="M359.5 42.0C360.1 42.3 361.9 42.8 363.0 44.0C364.1 45.2 365.8 47.7 366.0 49.0C366.2 50.3 364.8 52.0 364.0 52.0C363.2 52.0 361.5 49.5 361.0 49.0Z" fill="#9adf8c" stroke="#68b060" stroke-width="0.5" opacity="0.95"/>
<path d="M393.0 30.0C393.7 29.8 395.5 29.0 397.0 29.0C398.5 29.0 401.0 29.0 402.0 30.0C403.0 31.0 403.3 33.5 403.0 35.0C402.7 36.5 400.3 37.5 400.0 39.0C399.7 40.5 401.7 43.2 401.0 44.0C400.3 44.8 397.0 45.2 396.0 44.0C395.0 42.8 395.2 38.2 395.0 37.0Z" fill="#7cc772" stroke="#68b060" stroke-width="0.5" opacity="0.95"/>
<path d="M396.0 40.0C397.2 40.0 401.7 39.0 403.0 40.0C404.3 41.0 404.2 44.2 404.0 46.0C403.8 47.8 401.8 49.5 402.0 51.0C402.2 52.5 405.3 54.2 405.0 55.0C404.7 55.8 401.3 56.7 400.0 56.0C398.7 55.3 397.7 53.0 397.0 51.0C396.3 49.0 396.2 45.2 396.0 44.0Z" fill="#9adf8c" stroke="#68b060" stroke-width="0.5" opacity="0.95"/>
<path d="M364.0 79.0C364.8 78.7 367.2 77.3 369.0 77.0C370.8 76.7 373.8 76.2 375.0 77.0C376.2 77.8 377.0 80.4 376.0 81.5C375.0 82.6 370.4 82.8 369.0 83.5C367.6 84.2 368.2 86.1 367.5 86.0C366.8 85.9 365.4 83.5 365.0 83.0Z" fill="#7cc772" stroke="#68b060" stroke-width="0.5" opacity="0.95"/>
<path d="M367.5 83.5C368.4 83.8 371.0 84.9 373.0 85.0C375.0 85.1 378.1 84.4 379.5 84.0C380.9 83.6 381.6 82.0 381.5 82.5C381.4 83.0 380.6 86.2 379.0 87.0C377.4 87.8 373.2 87.4 372.0 87.5Z" fill="#9adf8c" stroke="#68b060" stroke-width="0.5" opacity="0.95"/>
<path d="M371.0 61.5C371.8 61.6 374.9 61.4 376.0 62.0C377.1 62.6 377.8 64.1 377.5 65.0C377.2 65.9 375.2 67.3 374.0 67.5C372.8 67.7 371.1 66.2 370.5 66.0Z" fill="#7cc772" stroke="#68b060" stroke-width="0.5" opacity="0.95"/>
<path d="M369.0 68.5C369.8 68.4 372.7 67.8 374.0 68.0C375.3 68.2 377.2 69.4 377.0 70.0C376.8 70.6 374.2 71.3 373.0 71.5C371.8 71.7 370.1 71.1 369.5 71.0Z" fill="#9adf8c" stroke="#68b060" stroke-width="0.5" opacity="0.95"/>
<path d="M365.0 75.0C366.2 74.8 370.0 73.7 372.0 74.0C374.0 74.3 377.2 76.4 377.0 77.0C376.8 77.6 372.0 77.4 371.0 77.5Z" fill="#7cc772" stroke="#68b060" stroke-width="0.5" opacity="0.95"/>
<ellipse cx="432.6" cy="24.6" rx="3.2" ry="3.0" stroke="#d8141a" stroke-width="1.3"/>
<path d="M432.3 27.4C432.4 28.0 432.4 30.0 432.8 31.0C433.2 32.0 433.7 32.9 434.5 33.6C435.3 34.3 436.8 34.4 437.7 35.2C438.6 36.0 439.4 37.9 439.8 38.4" fill="none" stroke="#d8141a" stroke-width="1.3"/>
<path d="M429.4 25.5C429.2 26.2 428.5 28.2 428.3 29.5C428.1 30.8 428.1 32.2 428.4 33.5C428.7 34.8 429.4 36.0 430.0 37.0C430.6 38.0 431.7 39.1 432.0 39.5" fill="none" stroke="#d8141a" stroke-width="1.3"/>
<ellipse cx="434.0" cy="42.8" rx="2.6" ry="3.1" stroke="#d8141a" stroke-width="1.5" transform="rotate(15 434.0 42.8)"/>
<ellipse cx="438.6" cy="42.8" rx="2.6" ry="3.1" stroke="#d8141a" stroke-width="1.5" transform="rotate(15 438.6 42.8)"/>
<ellipse cx="443.2" cy="42.8" rx="2.6" ry="3.1" stroke="#d8141a" stroke-width="1.5" transform="rotate(15 443.2 42.8)"/>
<path d="M430.0 43.5C430.2 44.0 430.0 45.9 431.0 46.5C432.0 47.1 434.3 47.0 436.0 47.0C437.7 47.0 439.5 46.8 441.0 46.5C442.5 46.2 443.8 45.2 445.0 45.2C446.2 45.2 447.0 46.2 448.0 46.8C449.0 47.4 450.3 48.5 450.8 48.8" fill="none" stroke="#d8141a" stroke-width="1.2"/>
<path d="M418.0 50.2C418.3 49.5 419.0 47.2 420.0 46.0C421.0 44.8 422.5 43.6 424.0 43.2C425.5 42.8 427.8 43.1 429.0 43.6C430.2 44.1 431.3 45.5 431.0 46.0C430.7 46.5 428.3 46.0 427.0 46.4C425.7 46.8 424.1 47.5 423.0 48.2C421.9 48.9 420.8 50.2 420.4 50.6Z" fill="#e8451f" stroke="#e2431e" stroke-width="0.4"/>
<path d="M421.5 49.4C422.0 49.3 423.7 48.6 424.5 48.6C425.3 48.6 426.2 49.4 426.5 49.6" fill="none" stroke="#e3c326" stroke-width="0.9"/>
<circle cx="351.6" cy="38.7" r="1.3" fill="#e9e9e9" stroke="none"/>
<circle cx="404.8" cy="31.0" r="1.25" fill="#e9e9e9" stroke="none"/>
<circle cx="426.8" cy="37.8" r="1.35" fill="#e9e9e9" stroke="none"/>
</g></g>
</g>
<g id="panelC">
<line x1="79.35" y1="157.50" x2="79.35" y2="188.00" stroke="#454545" stroke-width="1.0"/>
<line x1="75.60" y1="157.50" x2="83.10" y2="157.50" stroke="#454545" stroke-width="1.1"/>
<rect x="72.50" y="187.50" width="13.70" height="101.90" fill="#a5052e"/>
<line x1="99.10" y1="220.50" x2="99.10" y2="238.80" stroke="#454545" stroke-width="1.0"/>
<line x1="95.35" y1="220.50" x2="102.85" y2="220.50" stroke="#454545" stroke-width="1.1"/>
<rect x="92.40" y="238.30" width="13.40" height="51.10" fill="#2d4a7e"/>
<line x1="118.90" y1="267.50" x2="118.90" y2="274.80" stroke="#454545" stroke-width="1.0"/>
<line x1="115.15" y1="267.50" x2="122.65" y2="267.50" stroke="#454545" stroke-width="1.1"/>
<rect x="112.10" y="274.30" width="13.60" height="15.10" fill="#6aaf3e"/>
<line x1="138.80" y1="195.50" x2="138.80" y2="216.30" stroke="#454545" stroke-width="1.0"/>
<line x1="135.05" y1="195.50" x2="142.55" y2="195.50" stroke="#454545" stroke-width="1.1"/>
<rect x="132.00" y="215.80" width="13.60" height="73.60" fill="#a5052e"/>
<line x1="158.70" y1="255.50" x2="158.70" y2="265.10" stroke="#454545" stroke-width="1.0"/>
<line x1="154.95" y1="255.50" x2="162.45" y2="255.50" stroke="#454545" stroke-width="1.1"/>
<rect x="152.00" y="264.60" width="13.40" height="24.80" fill="#2d4a7e"/>
<line x1="178.55" y1="276.80" x2="178.55" y2="282.50" stroke="#454545" stroke-width="1.0"/>
<line x1="174.80" y1="276.80" x2="182.30" y2="276.80" stroke="#454545" stroke-width="1.1"/>
<rect x="171.80" y="282.00" width="13.50" height="7.40" fill="#6aaf3e"/>
<line x1="198.55" y1="199.50" x2="198.55" y2="224.90" stroke="#454545" stroke-width="1.0"/>
<line x1="194.80" y1="199.50" x2="202.30" y2="199.50" stroke="#454545" stroke-width="1.1"/>
<rect x="191.80" y="224.40" width="13.50" height="65.00" fill="#2d4a7e"/>
<line x1="218.40" y1="205.50" x2="218.40" y2="227.50" stroke="#454545" stroke-width="1.0"/>
<line x1="214.65" y1="205.50" x2="222.15" y2="205.50" stroke="#454545" stroke-width="1.1"/>
<rect x="211.70" y="227.00" width="13.40" height="62.40" fill="#a5052e"/>
<line x1="238.35" y1="180.00" x2="238.35" y2="197.50" stroke="#454545" stroke-width="1.0"/>
<line x1="234.60" y1="180.00" x2="242.10" y2="180.00" stroke="#454545" stroke-width="1.1"/>
<rect x="231.60" y="197.00" width="13.50" height="92.40" fill="#a5052e"/>
<line x1="258.25" y1="207.30" x2="258.25" y2="247.50" stroke="#454545" stroke-width="1.0"/>
<line x1="254.50" y1="207.30" x2="262.00" y2="207.30" stroke="#454545" stroke-width="1.1"/>
<rect x="251.50" y="247.00" width="13.50" height="42.40" fill="#2d4a7e"/>
<line x1="278.15" y1="208.50" x2="278.15" y2="245.00" stroke="#454545" stroke-width="1.0"/>
<line x1="274.40" y1="208.50" x2="281.90" y2="208.50" stroke="#454545" stroke-width="1.1"/>
<rect x="271.40" y="244.50" width="13.50" height="44.90" fill="#a5052e"/>
<line x1="65.80" y1="135.80" x2="65.80" y2="289.90" stroke="#231f20" stroke-width="1.0"/>
<line x1="65.30" y1="289.40" x2="293.00" y2="289.40" stroke="#231f20" stroke-width="1.0"/>
<line x1="63.20" y1="139.30" x2="65.80" y2="139.30" stroke="#231f20" stroke-width="0.9"/>
<text x="59.80" y="142.09" font-size="7.8" text-anchor="end" textLength="9.28" lengthAdjust="spacingAndGlyphs">25</text>
<line x1="63.20" y1="169.30" x2="65.80" y2="169.30" stroke="#231f20" stroke-width="0.9"/>
<text x="59.80" y="172.09" font-size="7.8" text-anchor="end" textLength="9.28" lengthAdjust="spacingAndGlyphs">20</text>
<line x1="63.20" y1="199.30" x2="65.80" y2="199.30" stroke="#231f20" stroke-width="0.9"/>
<text x="59.80" y="202.09" font-size="7.8" text-anchor="end" textLength="9.28" lengthAdjust="spacingAndGlyphs">15</text>
<line x1="63.20" y1="229.30" x2="65.80" y2="229.30" stroke="#231f20" stroke-width="0.9"/>
<text x="59.80" y="232.09" font-size="7.8" text-anchor="end" textLength="9.28" lengthAdjust="spacingAndGlyphs">10</text>
<line x1="63.20" y1="259.30" x2="65.80" y2="259.30" stroke="#231f20" stroke-width="0.9"/>
<text x="59.80" y="262.09" font-size="7.8" text-anchor="end" textLength="4.64" lengthAdjust="spacingAndGlyphs">5</text>
<line x1="63.20" y1="289.40" x2="65.80" y2="289.40" stroke="#231f20" stroke-width="0.9"/>
<text x="59.80" y="292.19" font-size="7.8" text-anchor="end" textLength="4.64" lengthAdjust="spacingAndGlyphs">0</text>
<line x1="79.35" y1="289.40" x2="79.35" y2="292.80" stroke="#231f20" stroke-width="0.9"/>
<line x1="99.10" y1="289.40" x2="99.10" y2="292.80" stroke="#231f20" stroke-width="0.9"/>
<line x1="118.90" y1="289.40" x2="118.90" y2="292.80" stroke="#231f20" stroke-width="0.9"/>
<line x1="138.80" y1="289.40" x2="138.80" y2="292.80" stroke="#231f20" stroke-width="0.9"/>
<line x1="158.70" y1="289.40" x2="158.70" y2="292.80" stroke="#231f20" stroke-width="0.9"/>
<line x1="178.55" y1="289.40" x2="178.55" y2="292.80" stroke="#231f20" stroke-width="0.9"/>
<line x1="198.55" y1="289.40" x2="198.55" y2="292.80" stroke="#231f20" stroke-width="0.9"/>
<line x1="218.40" y1="289.40" x2="218.40" y2="292.80" stroke="#231f20" stroke-width="0.9"/>
<line x1="238.35" y1="289.40" x2="238.35" y2="292.80" stroke="#231f20" stroke-width="0.9"/>
<line x1="258.25" y1="289.40" x2="258.25" y2="292.80" stroke="#231f20" stroke-width="0.9"/>
<line x1="278.15" y1="289.40" x2="278.15" y2="292.80" stroke="#231f20" stroke-width="0.9"/>
<text x="72.95" y="302.86" font-size="8.0" textLength="13.00" lengthAdjust="spacingAndGlyphs">+/+</text>
<text x="93.95" y="302.86" font-size="8.0" textLength="10.50" lengthAdjust="spacingAndGlyphs">+/-</text>
<text x="115.20" y="302.86" font-size="8.0" textLength="7.60" lengthAdjust="spacingAndGlyphs">-/-</text>
<text x="132.40" y="302.86" font-size="8.0" textLength="13.00" lengthAdjust="spacingAndGlyphs">+/+</text>
<text x="153.55" y="302.86" font-size="8.0" textLength="10.50" lengthAdjust="spacingAndGlyphs">+/-</text>
<text x="174.85" y="302.86" font-size="8.0" textLength="7.60" lengthAdjust="spacingAndGlyphs">-/-</text>
<text x="193.40" y="302.86" font-size="8.0" textLength="10.50" lengthAdjust="spacingAndGlyphs">+/-</text>
<text x="212.00" y="302.86" font-size="8.0" textLength="13.00" lengthAdjust="spacingAndGlyphs">+/+</text>
<text x="231.95" y="302.86" font-size="8.0" textLength="13.00" lengthAdjust="spacingAndGlyphs">+/+</text>
<text x="253.10" y="302.86" font-size="8.0" textLength="10.50" lengthAdjust="spacingAndGlyphs">+/-</text>
<text x="271.75" y="302.86" font-size="8.0" textLength="13.00" lengthAdjust="spacingAndGlyphs">+/+</text>
<text x="34.90" y="302.86" font-size="8.0" textLength="24.80" lengthAdjust="spacingAndGlyphs">GATA2</text>
<text transform="translate(43.43 259.50) rotate(-90)" font-size="9.3" textLength="92.90" lengthAdjust="spacingAndGlyphs" class="v">Fraction of CD34+CD45+ cells</text>
<text x="218.40" y="313.46" font-size="8.0" text-anchor="middle">(1)</text>
<text x="238.35" y="313.46" font-size="8.0" text-anchor="middle">(2)</text>
<line x1="76.20" y1="318.10" x2="122.00" y2="318.10" stroke="#231f20" stroke-width="1.15"/>
<text x="72.60" y="328.66" font-size="8.0" textLength="53.00" lengthAdjust="spacingAndGlyphs">CTRL1-MSC-1</text>
<line x1="135.80" y1="318.10" x2="181.80" y2="318.10" stroke="#231f20" stroke-width="1.15"/>
<text x="136.05" y="328.66" font-size="8.0" textLength="45.50" lengthAdjust="spacingAndGlyphs">CTRL3-FB-1</text>
<line x1="195.80" y1="318.10" x2="241.20" y2="318.10" stroke="#231f20" stroke-width="1.15"/>
<text x="206.25" y="328.66" font-size="8.0" textLength="24.50" lengthAdjust="spacingAndGlyphs">R337X</text>
<line x1="251.20" y1="318.10" x2="285.00" y2="318.10" stroke="#231f20" stroke-width="1.15"/>
<text x="255.70" y="328.66" font-size="8.0" textLength="24.80" lengthAdjust="spacingAndGlyphs">R361H</text>
<line x1="138.00" y1="178.20" x2="177.80" y2="178.20" stroke="#231f20" stroke-width="1.1"/>
<text x="158.00" y="177.93" font-size="6.5" text-anchor="middle">*</text>
<line x1="352.60" y1="153.20" x2="352.60" y2="177.50" stroke="#454545" stroke-width="1.0"/>
<line x1="348.85" y1="153.20" x2="356.35" y2="153.20" stroke="#454545" stroke-width="1.1"/>
<rect x="345.80" y="177.00" width="13.60" height="112.40" fill="#a5052e"/>
<line x1="371.65" y1="225.80" x2="371.65" y2="239.80" stroke="#454545" stroke-width="1.0"/>
<line x1="367.90" y1="225.80" x2="375.40" y2="225.80" stroke="#454545" stroke-width="1.1"/>
<rect x="365.00" y="239.30" width="13.30" height="50.10" fill="#2d4a7e"/>
<line x1="390.40" y1="268.80" x2="390.40" y2="273.80" stroke="#454545" stroke-width="1.0"/>
<line x1="386.65" y1="268.80" x2="394.15" y2="268.80" stroke="#454545" stroke-width="1.1"/>
<rect x="383.80" y="273.30" width="13.20" height="16.10" fill="#6aaf3e"/>
<line x1="409.40" y1="207.50" x2="409.40" y2="231.80" stroke="#454545" stroke-width="1.0"/>
<line x1="405.65" y1="207.50" x2="413.15" y2="207.50" stroke="#454545" stroke-width="1.1"/>
<rect x="402.80" y="231.30" width="13.20" height="58.10" fill="#2d4a7e"/>
<line x1="428.25" y1="173.00" x2="428.25" y2="196.80" stroke="#454545" stroke-width="1.0"/>
<line x1="424.50" y1="173.00" x2="432.00" y2="173.00" stroke="#454545" stroke-width="1.1"/>
<rect x="421.40" y="196.30" width="13.70" height="93.10" fill="#a5052e"/>
<line x1="340.20" y1="135.80" x2="340.20" y2="289.90" stroke="#231f20" stroke-width="1.0"/>
<line x1="339.70" y1="289.40" x2="441.30" y2="289.40" stroke="#231f20" stroke-width="1.0"/>
<line x1="337.60" y1="139.30" x2="340.20" y2="139.30" stroke="#231f20" stroke-width="0.9"/>
<text x="334.20" y="142.09" font-size="7.8" text-anchor="end" textLength="9.28" lengthAdjust="spacingAndGlyphs">20</text>
<line x1="337.60" y1="176.80" x2="340.20" y2="176.80" stroke="#231f20" stroke-width="0.9"/>
<text x="334.20" y="179.59" font-size="7.8" text-anchor="end" textLength="9.28" lengthAdjust="spacingAndGlyphs">15</text>
<line x1="337.60" y1="214.30" x2="340.20" y2="214.30" stroke="#231f20" stroke-width="0.9"/>
<text x="334.20" y="217.09" font-size="7.8" text-anchor="end" textLength="9.28" lengthAdjust="spacingAndGlyphs">10</text>
<line x1="337.60" y1="251.90" x2="340.20" y2="251.90" stroke="#231f20" stroke-width="0.9"/>
<text x="334.20" y="254.69" font-size="7.8" text-anchor="end" textLength="4.64" lengthAdjust="spacingAndGlyphs">5</text>
<line x1="337.60" y1="289.40" x2="340.20" y2="289.40" stroke="#231f20" stroke-width="0.9"/>
<text x="334.20" y="292.19" font-size="7.8" text-anchor="end" textLength="4.64" lengthAdjust="spacingAndGlyphs">0</text>
<line x1="352.60" y1="289.40" x2="352.60" y2="292.80" stroke="#231f20" stroke-width="0.9"/>
<line x1="371.65" y1="289.40" x2="371.65" y2="292.80" stroke="#231f20" stroke-width="0.9"/>
<line x1="390.40" y1="289.40" x2="390.40" y2="292.80" stroke="#231f20" stroke-width="0.9"/>
<line x1="409.40" y1="289.40" x2="409.40" y2="292.80" stroke="#231f20" stroke-width="0.9"/>
<line x1="428.25" y1="289.40" x2="428.25" y2="292.80" stroke="#231f20" stroke-width="0.9"/>
<text x="346.20" y="302.86" font-size="8.0" textLength="13.00" lengthAdjust="spacingAndGlyphs">+/+</text>
<text x="366.50" y="302.86" font-size="8.0" textLength="10.50" lengthAdjust="spacingAndGlyphs">+/-</text>
<text x="386.70" y="302.86" font-size="8.0" textLength="7.60" lengthAdjust="spacingAndGlyphs">-/-</text>
<text x="308.70" y="302.86" font-size="8.0" textLength="24.80" lengthAdjust="spacingAndGlyphs">GATA2</text>
<text transform="translate(318.43 259.50) rotate(-90)" font-size="9.3" textLength="92.90" lengthAdjust="spacingAndGlyphs" class="v">Fraction of CD34+CD45+ cells</text>
<text transform="translate(413.20 298.90) rotate(-45)" font-size="8.0" text-anchor="end" textLength="22.60" lengthAdjust="spacingAndGlyphs" class="r">Mutant</text>
<text transform="translate(433.00 298.30) rotate(-45)" font-size="8.0" text-anchor="end" textLength="36.60" lengthAdjust="spacingAndGlyphs" class="r">Corrected</text>
<line x1="352.70" y1="136.30" x2="390.50" y2="136.30" stroke="#231f20" stroke-width="1.1"/>
<text x="371.80" y="135.73" font-size="6.5" text-anchor="middle">**</text>
<line x1="352.70" y1="147.50" x2="373.30" y2="147.50" stroke="#231f20" stroke-width="1.1"/>
<text x="363.00" y="146.73" font-size="6.5" text-anchor="middle">**</text>
<line x1="370.00" y1="209.80" x2="388.80" y2="209.80" stroke="#231f20" stroke-width="1.1"/>
<text x="379.50" y="209.03" font-size="6.5" text-anchor="middle">**</text>
</g>
<g id="panelD">
<line x1="79.35" y1="457.50" x2="79.35" y2="466.50" stroke="#454545" stroke-width="1.0"/>
<line x1="75.60" y1="457.50" x2="83.10" y2="457.50" stroke="#454545" stroke-width="1.1"/>
<rect x="72.50" y="466.00" width="13.70" height="36.35" fill="#a5052e"/>
<line x1="99.10" y1="473.80" x2="99.10" y2="476.50" stroke="#454545" stroke-width="1.0"/>
<line x1="95.35" y1="473.80" x2="102.85" y2="473.80" stroke="#454545" stroke-width="1.1"/>
<rect x="92.40" y="476.00" width="13.40" height="26.35" fill="#2d4a7e"/>
<line x1="138.80" y1="496.40" x2="138.80" y2="499.00" stroke="#454545" stroke-width="1.0"/>
<line x1="135.05" y1="496.40" x2="142.55" y2="496.40" stroke="#454545" stroke-width="1.1"/>
<rect x="132.00" y="498.50" width="13.60" height="3.85" fill="#a5052e"/>
<rect x="152.00" y="467.00" width="13.40" height="35.35" fill="#2d4a7e"/>
<line x1="198.55" y1="435.00" x2="198.55" y2="446.30" stroke="#454545" stroke-width="1.0"/>
<line x1="194.80" y1="435.00" x2="202.30" y2="435.00" stroke="#454545" stroke-width="1.1"/>
<rect x="191.80" y="445.80" width="13.50" height="56.55" fill="#2d4a7e"/>
<line x1="218.40" y1="453.30" x2="218.40" y2="472.50" stroke="#454545" stroke-width="1.0"/>
<line x1="214.65" y1="453.30" x2="222.15" y2="453.30" stroke="#454545" stroke-width="1.1"/>
<rect x="211.70" y="472.00" width="13.40" height="30.35" fill="#a5052e"/>
<line x1="238.35" y1="460.30" x2="238.35" y2="464.50" stroke="#454545" stroke-width="1.0"/>
<line x1="234.60" y1="460.30" x2="242.10" y2="460.30" stroke="#454545" stroke-width="1.1"/>
<rect x="231.60" y="464.00" width="13.50" height="38.35" fill="#a5052e"/>
<line x1="258.25" y1="368.50" x2="258.25" y2="382.30" stroke="#454545" stroke-width="1.0"/>
<line x1="254.50" y1="368.50" x2="262.00" y2="368.50" stroke="#454545" stroke-width="1.1"/>
<rect x="251.50" y="381.80" width="13.50" height="120.55" fill="#2d4a7e"/>
<line x1="278.15" y1="396.30" x2="278.15" y2="399.00" stroke="#454545" stroke-width="1.0"/>
<line x1="274.40" y1="396.30" x2="281.90" y2="396.30" stroke="#454545" stroke-width="1.1"/>
<rect x="271.40" y="398.50" width="13.50" height="103.85" fill="#a5052e"/>
<line x1="65.80" y1="348.60" x2="65.80" y2="502.85" stroke="#231f20" stroke-width="1.0"/>
<line x1="65.30" y1="502.35" x2="293.00" y2="502.35" stroke="#231f20" stroke-width="1.0"/>
<line x1="63.20" y1="350.50" x2="65.80" y2="350.50" stroke="#231f20" stroke-width="0.9"/>
<text x="59.80" y="353.29" font-size="7.8" text-anchor="end" textLength="9.28" lengthAdjust="spacingAndGlyphs">50</text>
<line x1="63.20" y1="380.80" x2="65.80" y2="380.80" stroke="#231f20" stroke-width="0.9"/>
<text x="59.80" y="383.59" font-size="7.8" text-anchor="end" textLength="9.28" lengthAdjust="spacingAndGlyphs">40</text>
<line x1="63.20" y1="411.20" x2="65.80" y2="411.20" stroke="#231f20" stroke-width="0.9"/>
<text x="59.80" y="413.99" font-size="7.8" text-anchor="end" textLength="9.28" lengthAdjust="spacingAndGlyphs">30</text>
<line x1="63.20" y1="441.60" x2="65.80" y2="441.60" stroke="#231f20" stroke-width="0.9"/>
<text x="59.80" y="444.39" font-size="7.8" text-anchor="end" textLength="9.28" lengthAdjust="spacingAndGlyphs">20</text>
<line x1="63.20" y1="471.90" x2="65.80" y2="471.90" stroke="#231f20" stroke-width="0.9"/>
<text x="59.80" y="474.69" font-size="7.8" text-anchor="end" textLength="9.28" lengthAdjust="spacingAndGlyphs">10</text>
<line x1="63.20" y1="502.20" x2="65.80" y2="502.20" stroke="#231f20" stroke-width="0.9"/>
<text x="59.80" y="504.99" font-size="7.8" text-anchor="end" textLength="4.64" lengthAdjust="spacingAndGlyphs">0</text>
<line x1="79.35" y1="502.35" x2="79.35" y2="505.75" stroke="#231f20" stroke-width="0.9"/>
<line x1="99.10" y1="502.35" x2="99.10" y2="505.75" stroke="#231f20" stroke-width="0.9"/>
<line x1="118.90" y1="502.35" x2="118.90" y2="505.75" stroke="#231f20" stroke-width="0.9"/>
<line x1="138.80" y1="502.35" x2="138.80" y2="505.75" stroke="#231f20" stroke-width="0.9"/>
<line x1="158.70" y1="502.35" x2="158.70" y2="505.75" stroke="#231f20" stroke-width="0.9"/>
<line x1="178.55" y1="502.35" x2="178.55" y2="505.75" stroke="#231f20" stroke-width="0.9"/>
<line x1="198.55" y1="502.35" x2="198.55" y2="505.75" stroke="#231f20" stroke-width="0.9"/>
<line x1="218.40" y1="502.35" x2="218.40" y2="505.75" stroke="#231f20" stroke-width="0.9"/>
<line x1="238.35" y1="502.35" x2="238.35" y2="505.75" stroke="#231f20" stroke-width="0.9"/>
<line x1="258.25" y1="502.35" x2="258.25" y2="505.75" stroke="#231f20" stroke-width="0.9"/>
<line x1="278.15" y1="502.35" x2="278.15" y2="505.75" stroke="#231f20" stroke-width="0.9"/>
<text x="72.95" y="516.06" font-size="8.0" textLength="13.00" lengthAdjust="spacingAndGlyphs">+/+</text>
<text x="93.95" y="516.06" font-size="8.0" textLength="10.50" lengthAdjust="spacingAndGlyphs">+/-</text>
<text x="115.20" y="516.06" font-size="8.0" textLength="7.60" lengthAdjust="spacingAndGlyphs">-/-</text>
<text x="132.40" y="516.06" font-size="8.0" textLength="13.00" lengthAdjust="spacingAndGlyphs">+/+</text>
<text x="153.55" y="516.06" font-size="8.0" textLength="10.50" lengthAdjust="spacingAndGlyphs">+/-</text>
<text x="174.85" y="516.06" font-size="8.0" textLength="7.60" lengthAdjust="spacingAndGlyphs">-/-</text>
<text x="193.40" y="516.06" font-size="8.0" textLength="10.50" lengthAdjust="spacingAndGlyphs">+/-</text>
<text x="212.00" y="516.06" font-size="8.0" textLength="13.00" lengthAdjust="spacingAndGlyphs">+/+</text>
<text x="231.95" y="516.06" font-size="8.0" textLength="13.00" lengthAdjust="spacingAndGlyphs">+/+</text>
<text x="253.10" y="516.06" font-size="8.0" textLength="10.50" lengthAdjust="spacingAndGlyphs">+/-</text>
<text x="271.75" y="516.06" font-size="8.0" textLength="13.00" lengthAdjust="spacingAndGlyphs">+/+</text>
<text x="34.90" y="516.06" font-size="8.0" textLength="24.80" lengthAdjust="spacingAndGlyphs">GATA2</text>
<text transform="translate(43.83 485.50) rotate(-90)" font-size="9.3" textLength="118.90" lengthAdjust="spacingAndGlyphs" class="v">Total CFU per 1000 CD34+CD45+ cells</text>
<text x="218.40" y="525.46" font-size="8.0" text-anchor="middle">(1)</text>
<text x="238.35" y="525.46" font-size="8.0" text-anchor="middle">(2)</text>
<line x1="76.20" y1="530.90" x2="122.00" y2="530.90" stroke="#231f20" stroke-width="1.15"/>
<text x="72.60" y="541.46" font-size="8.0" textLength="53.00" lengthAdjust="spacingAndGlyphs">CTRL1-MSC-1</text>
<line x1="135.80" y1="530.90" x2="181.80" y2="530.90" stroke="#231f20" stroke-width="1.15"/>
<text x="136.05" y="541.46" font-size="8.0" textLength="45.50" lengthAdjust="spacingAndGlyphs">CTRL3-FB-1</text>
<line x1="195.80" y1="530.90" x2="241.20" y2="530.90" stroke="#231f20" stroke-width="1.15"/>
<text x="206.25" y="541.46" font-size="8.0" textLength="24.50" lengthAdjust="spacingAndGlyphs">R337X</text>
<line x1="251.20" y1="530.90" x2="285.00" y2="530.90" stroke="#231f20" stroke-width="1.15"/>
<text x="255.70" y="541.46" font-size="8.0" textLength="24.80" lengthAdjust="spacingAndGlyphs">R361H</text>
<line x1="352.60" y1="459.30" x2="352.60" y2="471.30" stroke="#454545" stroke-width="1.0"/>
<line x1="348.85" y1="459.30" x2="356.35" y2="459.30" stroke="#454545" stroke-width="1.1"/>
<rect x="345.80" y="470.80" width="13.60" height="31.55" fill="#a5052e"/>
<line x1="371.65" y1="462.50" x2="371.65" y2="465.50" stroke="#454545" stroke-width="1.0"/>
<line x1="367.90" y1="462.50" x2="375.40" y2="462.50" stroke="#454545" stroke-width="1.1"/>
<rect x="365.00" y="465.00" width="13.30" height="37.35" fill="#2d4a7e"/>
<line x1="409.40" y1="386.00" x2="409.40" y2="405.50" stroke="#454545" stroke-width="1.0"/>
<line x1="405.65" y1="386.00" x2="413.15" y2="386.00" stroke="#454545" stroke-width="1.1"/>
<rect x="402.80" y="405.00" width="13.20" height="97.35" fill="#2d4a7e"/>
<line x1="428.25" y1="409.50" x2="428.25" y2="427.50" stroke="#454545" stroke-width="1.0"/>
<line x1="424.50" y1="409.50" x2="432.00" y2="409.50" stroke="#454545" stroke-width="1.1"/>
<rect x="421.40" y="427.00" width="13.70" height="75.35" fill="#a5052e"/>
<line x1="340.20" y1="349.80" x2="340.20" y2="502.85" stroke="#231f20" stroke-width="1.0"/>
<line x1="339.70" y1="502.35" x2="441.30" y2="502.35" stroke="#231f20" stroke-width="1.0"/>
<line x1="337.60" y1="352.30" x2="340.20" y2="352.30" stroke="#231f20" stroke-width="0.9"/>
<text x="334.20" y="355.09" font-size="7.8" text-anchor="end" textLength="9.28" lengthAdjust="spacingAndGlyphs">40</text>
<line x1="337.60" y1="389.90" x2="340.20" y2="389.90" stroke="#231f20" stroke-width="0.9"/>
<text x="334.20" y="392.69" font-size="7.8" text-anchor="end" textLength="9.28" lengthAdjust="spacingAndGlyphs">30</text>
<line x1="337.60" y1="427.40" x2="340.20" y2="427.40" stroke="#231f20" stroke-width="0.9"/>
<text x="334.20" y="430.19" font-size="7.8" text-anchor="end" textLength="9.28" lengthAdjust="spacingAndGlyphs">20</text>
<line x1="337.60" y1="465.00" x2="340.20" y2="465.00" stroke="#231f20" stroke-width="0.9"/>
<text x="334.20" y="467.79" font-size="7.8" text-anchor="end" textLength="9.28" lengthAdjust="spacingAndGlyphs">10</text>
<line x1="337.60" y1="502.30" x2="340.20" y2="502.30" stroke="#231f20" stroke-width="0.9"/>
<text x="334.20" y="505.09" font-size="7.8" text-anchor="end" textLength="4.64" lengthAdjust="spacingAndGlyphs">0</text>
<line x1="352.60" y1="502.35" x2="352.60" y2="505.75" stroke="#231f20" stroke-width="0.9"/>
<line x1="371.65" y1="502.35" x2="371.65" y2="505.75" stroke="#231f20" stroke-width="0.9"/>
<line x1="390.40" y1="502.35" x2="390.40" y2="505.75" stroke="#231f20" stroke-width="0.9"/>
<line x1="409.40" y1="502.35" x2="409.40" y2="505.75" stroke="#231f20" stroke-width="0.9"/>
<line x1="428.25" y1="502.35" x2="428.25" y2="505.75" stroke="#231f20" stroke-width="0.9"/>
<text x="346.20" y="516.06" font-size="8.0" textLength="13.00" lengthAdjust="spacingAndGlyphs">+/+</text>
<text x="366.50" y="516.06" font-size="8.0" textLength="10.50" lengthAdjust="spacingAndGlyphs">+/-</text>
<text x="386.70" y="516.06" font-size="8.0" textLength="7.60" lengthAdjust="spacingAndGlyphs">-/-</text>
<text x="308.70" y="516.06" font-size="8.0" textLength="24.80" lengthAdjust="spacingAndGlyphs">GATA2</text>
<text transform="translate(318.43 485.50) rotate(-90)" font-size="9.3" textLength="118.90" lengthAdjust="spacingAndGlyphs" class="v">Total CFU per 1000 CD34+CD45+ cells</text>
<text transform="translate(413.20 511.70) rotate(-45)" font-size="8.0" text-anchor="end" textLength="22.60" lengthAdjust="spacingAndGlyphs" class="r">Mutant</text>
<text transform="translate(433.00 511.10) rotate(-45)" font-size="8.0" text-anchor="end" textLength="36.60" lengthAdjust="spacingAndGlyphs" class="r">Corrected</text>
<line x1="367.20" y1="454.50" x2="386.80" y2="454.50" stroke="#231f20" stroke-width="1.1"/>
<text x="377.00" y="453.73" font-size="6.5" text-anchor="middle">**</text>
</g>
<g id="panelE">
<line x1="68.90" y1="629.50" x2="68.90" y2="646.30" stroke="#454545" stroke-width="1.0"/>
<line x1="64.15" y1="629.50" x2="73.65" y2="629.50" stroke="#454545" stroke-width="1.1"/>
<rect x="59.50" y="645.80" width="18.80" height="16.60" fill="#a5052e"/>
<line x1="97.40" y1="574.50" x2="97.40" y2="619.00" stroke="#454545" stroke-width="1.0"/>
<line x1="92.65" y1="574.50" x2="102.15" y2="574.50" stroke="#454545" stroke-width="1.1"/>
<rect x="88.00" y="618.50" width="18.80" height="43.90" fill="#2d4a7e"/>
<line x1="50.40" y1="561.80" x2="50.40" y2="662.90" stroke="#231f20" stroke-width="1.0"/>
<line x1="49.90" y1="662.40" x2="116.00" y2="662.40" stroke="#231f20" stroke-width="1.0"/>
<line x1="47.80" y1="563.50" x2="50.40" y2="563.50" stroke="#231f20" stroke-width="0.9"/>
<text x="44.40" y="566.29" font-size="7.8" text-anchor="end" textLength="11.60" lengthAdjust="spacingAndGlyphs">2.5</text>
<line x1="47.80" y1="583.30" x2="50.40" y2="583.30" stroke="#231f20" stroke-width="0.9"/>
<text x="44.40" y="586.09" font-size="7.8" text-anchor="end" textLength="11.60" lengthAdjust="spacingAndGlyphs">2.0</text>
<line x1="47.80" y1="603.00" x2="50.40" y2="603.00" stroke="#231f20" stroke-width="0.9"/>
<text x="44.40" y="605.79" font-size="7.8" text-anchor="end" textLength="11.60" lengthAdjust="spacingAndGlyphs">1.5</text>
<line x1="47.80" y1="622.80" x2="50.40" y2="622.80" stroke="#231f20" stroke-width="0.9"/>
<text x="44.40" y="625.59" font-size="7.8" text-anchor="end" textLength="11.60" lengthAdjust="spacingAndGlyphs">1.0</text>
<line x1="47.80" y1="642.60" x2="50.40" y2="642.60" stroke="#231f20" stroke-width="0.9"/>
<text x="44.40" y="645.39" font-size="7.8" text-anchor="end" textLength="11.60" lengthAdjust="spacingAndGlyphs">0.5</text>
<line x1="47.80" y1="662.40" x2="50.40" y2="662.40" stroke="#231f20" stroke-width="0.9"/>
<text x="44.40" y="665.19" font-size="7.8" text-anchor="end" textLength="4.64" lengthAdjust="spacingAndGlyphs">0</text>
<line x1="68.90" y1="662.40" x2="68.90" y2="665.80" stroke="#231f20" stroke-width="0.9"/>
<line x1="97.40" y1="662.40" x2="97.40" y2="665.80" stroke="#231f20" stroke-width="0.9"/>
<text x="62.50" y="675.36" font-size="8.0" textLength="13.00" lengthAdjust="spacingAndGlyphs">+/+</text>
<text x="92.25" y="675.36" font-size="8.0" textLength="10.50" lengthAdjust="spacingAndGlyphs">+/-</text>
<text x="28.20" y="675.36" font-size="8.0" textLength="24.60" lengthAdjust="spacingAndGlyphs">GATA2</text>
<text transform="translate(26.83 642.50) rotate(-90)" font-size="9.3" textLength="61.70" lengthAdjust="spacingAndGlyphs" class="v">Frequency of GEMM</text>
<line x1="168.40" y1="581.00" x2="168.40" y2="587.00" stroke="#454545" stroke-width="1.0"/>
<line x1="163.65" y1="581.00" x2="173.15" y2="581.00" stroke="#454545" stroke-width="1.1"/>
<rect x="159.00" y="586.50" width="18.80" height="75.90" fill="#a5052e"/>
<line x1="196.65" y1="583.80" x2="196.65" y2="590.50" stroke="#454545" stroke-width="1.0"/>
<line x1="191.90" y1="583.80" x2="201.40" y2="583.80" stroke="#454545" stroke-width="1.1"/>
<rect x="187.30" y="590.00" width="18.70" height="72.40" fill="#2d4a7e"/>
<line x1="149.40" y1="561.80" x2="149.40" y2="662.90" stroke="#231f20" stroke-width="1.0"/>
<line x1="148.90" y1="662.40" x2="215.00" y2="662.40" stroke="#231f20" stroke-width="1.0"/>
<line x1="146.80" y1="563.50" x2="149.40" y2="563.50" stroke="#231f20" stroke-width="0.9"/>
<text x="143.40" y="566.29" font-size="7.8" text-anchor="end" textLength="9.28" lengthAdjust="spacingAndGlyphs">80</text>
<line x1="146.80" y1="588.20" x2="149.40" y2="588.20" stroke="#231f20" stroke-width="0.9"/>
<text x="143.40" y="590.99" font-size="7.8" text-anchor="end" textLength="9.28" lengthAdjust="spacingAndGlyphs">60</text>
<line x1="146.80" y1="613.00" x2="149.40" y2="613.00" stroke="#231f20" stroke-width="0.9"/>
<text x="143.40" y="615.79" font-size="7.8" text-anchor="end" textLength="9.28" lengthAdjust="spacingAndGlyphs">40</text>
<line x1="146.80" y1="637.70" x2="149.40" y2="637.70" stroke="#231f20" stroke-width="0.9"/>
<text x="143.40" y="640.49" font-size="7.8" text-anchor="end" textLength="9.28" lengthAdjust="spacingAndGlyphs">20</text>
<line x1="146.80" y1="662.40" x2="149.40" y2="662.40" stroke="#231f20" stroke-width="0.9"/>
<text x="143.40" y="665.19" font-size="7.8" text-anchor="end" textLength="4.64" lengthAdjust="spacingAndGlyphs">0</text>
<line x1="168.40" y1="662.40" x2="168.40" y2="665.80" stroke="#231f20" stroke-width="0.9"/>
<line x1="196.65" y1="662.40" x2="196.65" y2="665.80" stroke="#231f20" stroke-width="0.9"/>
<text x="162.00" y="675.36" font-size="8.0" textLength="13.00" lengthAdjust="spacingAndGlyphs">+/+</text>
<text x="191.50" y="675.36" font-size="8.0" textLength="10.50" lengthAdjust="spacingAndGlyphs">+/-</text>
<text x="127.60" y="675.36" font-size="8.0" textLength="24.60" lengthAdjust="spacingAndGlyphs">GATA2</text>
<text transform="translate(127.23 657.00) rotate(-90)" font-size="9.3" textLength="90.70" lengthAdjust="spacingAndGlyphs" class="v">Frequency of BFU-E or CFU-E</text>
<line x1="267.40" y1="596.80" x2="267.40" y2="607.30" stroke="#454545" stroke-width="1.0"/>
<line x1="262.65" y1="596.80" x2="272.15" y2="596.80" stroke="#454545" stroke-width="1.1"/>
<rect x="258.00" y="606.80" width="18.80" height="55.60" fill="#a5052e"/>
<line x1="295.65" y1="624.30" x2="295.65" y2="634.00" stroke="#454545" stroke-width="1.0"/>
<line x1="290.90" y1="624.30" x2="300.40" y2="624.30" stroke="#454545" stroke-width="1.1"/>
<rect x="286.30" y="633.50" width="18.70" height="28.90" fill="#2d4a7e"/>
<line x1="248.20" y1="561.80" x2="248.20" y2="662.90" stroke="#231f20" stroke-width="1.0"/>
<line x1="247.70" y1="662.40" x2="314.50" y2="662.40" stroke="#231f20" stroke-width="1.0"/>
<line x1="245.60" y1="563.50" x2="248.20" y2="563.50" stroke="#231f20" stroke-width="0.9"/>
<text x="242.20" y="566.29" font-size="7.8" text-anchor="end" textLength="9.28" lengthAdjust="spacingAndGlyphs">15</text>
<line x1="245.60" y1="596.50" x2="248.20" y2="596.50" stroke="#231f20" stroke-width="0.9"/>
<text x="242.20" y="599.29" font-size="7.8" text-anchor="end" textLength="9.28" lengthAdjust="spacingAndGlyphs">10</text>
<line x1="245.60" y1="629.40" x2="248.20" y2="629.40" stroke="#231f20" stroke-width="0.9"/>
<text x="242.20" y="632.19" font-size="7.8" text-anchor="end" textLength="4.64" lengthAdjust="spacingAndGlyphs">5</text>
<line x1="245.60" y1="662.40" x2="248.20" y2="662.40" stroke="#231f20" stroke-width="0.9"/>
<text x="242.20" y="665.19" font-size="7.8" text-anchor="end" textLength="4.64" lengthAdjust="spacingAndGlyphs">0</text>
<line x1="267.40" y1="662.40" x2="267.40" y2="665.80" stroke="#231f20" stroke-width="0.9"/>
<line x1="295.65" y1="662.40" x2="295.65" y2="665.80" stroke="#231f20" stroke-width="0.9"/>
<text x="261.00" y="675.36" font-size="8.0" textLength="13.00" lengthAdjust="spacingAndGlyphs">+/+</text>
<text x="290.50" y="675.36" font-size="8.0" textLength="10.50" lengthAdjust="spacingAndGlyphs">+/-</text>
<text x="226.80" y="675.36" font-size="8.0" textLength="24.60" lengthAdjust="spacingAndGlyphs">GATA2</text>
<text transform="translate(226.63 645.50) rotate(-90)" font-size="9.3" textLength="68.00" lengthAdjust="spacingAndGlyphs" class="v">Frequency of CFU-GM</text>
<line x1="366.40" y1="569.30" x2="366.40" y2="588.30" stroke="#454545" stroke-width="1.0"/>
<line x1="361.65" y1="569.30" x2="371.15" y2="569.30" stroke="#454545" stroke-width="1.1"/>
<rect x="357.00" y="587.80" width="18.80" height="74.60" fill="#a5052e"/>
<line x1="394.65" y1="573.00" x2="394.65" y2="592.50" stroke="#454545" stroke-width="1.0"/>
<line x1="389.90" y1="573.00" x2="399.40" y2="573.00" stroke="#454545" stroke-width="1.1"/>
<rect x="385.30" y="592.00" width="18.70" height="70.40" fill="#2d4a7e"/>
<line x1="347.40" y1="561.80" x2="347.40" y2="662.90" stroke="#231f20" stroke-width="1.0"/>
<line x1="346.90" y1="662.40" x2="413.80" y2="662.40" stroke="#231f20" stroke-width="1.0"/>
<line x1="344.80" y1="563.50" x2="347.40" y2="563.50" stroke="#231f20" stroke-width="0.9"/>
<text x="341.40" y="566.29" font-size="7.8" text-anchor="end" textLength="9.28" lengthAdjust="spacingAndGlyphs">15</text>
<line x1="344.80" y1="596.50" x2="347.40" y2="596.50" stroke="#231f20" stroke-width="0.9"/>
<text x="341.40" y="599.29" font-size="7.8" text-anchor="end" textLength="9.28" lengthAdjust="spacingAndGlyphs">10</text>
<line x1="344.80" y1="629.40" x2="347.40" y2="629.40" stroke="#231f20" stroke-width="0.9"/>
<text x="341.40" y="632.19" font-size="7.8" text-anchor="end" textLength="4.64" lengthAdjust="spacingAndGlyphs">5</text>
<line x1="344.80" y1="662.40" x2="347.40" y2="662.40" stroke="#231f20" stroke-width="0.9"/>
<text x="341.40" y="665.19" font-size="7.8" text-anchor="end" textLength="4.64" lengthAdjust="spacingAndGlyphs">0</text>
<line x1="366.40" y1="662.40" x2="366.40" y2="665.80" stroke="#231f20" stroke-width="0.9"/>
<line x1="394.65" y1="662.40" x2="394.65" y2="665.80" stroke="#231f20" stroke-width="0.9"/>
<text x="360.00" y="675.36" font-size="8.0" textLength="13.00" lengthAdjust="spacingAndGlyphs">+/+</text>
<text x="389.50" y="675.36" font-size="8.0" textLength="10.50" lengthAdjust="spacingAndGlyphs">+/-</text>
<text x="325.80" y="675.36" font-size="8.0" textLength="24.60" lengthAdjust="spacingAndGlyphs">GATA2</text>
<text transform="translate(326.23 642.50) rotate(-90)" font-size="9.3" textLength="62.50" lengthAdjust="spacingAndGlyphs" class="v">Frequency of CFU-G</text>
<line x1="465.90" y1="613.00" x2="465.90" y2="618.30" stroke="#454545" stroke-width="1.0"/>
<line x1="461.15" y1="613.00" x2="470.65" y2="613.00" stroke="#454545" stroke-width="1.1"/>
<rect x="456.50" y="617.80" width="18.80" height="44.60" fill="#a5052e"/>
<line x1="494.00" y1="591.00" x2="494.00" y2="601.30" stroke="#454545" stroke-width="1.0"/>
<line x1="489.25" y1="591.00" x2="498.75" y2="591.00" stroke="#454545" stroke-width="1.1"/>
<rect x="484.60" y="600.80" width="18.80" height="61.60" fill="#2d4a7e"/>
<line x1="447.00" y1="561.80" x2="447.00" y2="662.90" stroke="#231f20" stroke-width="1.0"/>
<line x1="446.50" y1="662.40" x2="513.00" y2="662.40" stroke="#231f20" stroke-width="1.0"/>
<line x1="444.40" y1="563.50" x2="447.00" y2="563.50" stroke="#231f20" stroke-width="0.9"/>
<text x="441.00" y="566.29" font-size="7.8" text-anchor="end" textLength="9.28" lengthAdjust="spacingAndGlyphs">40</text>
<line x1="444.40" y1="588.20" x2="447.00" y2="588.20" stroke="#231f20" stroke-width="0.9"/>
<text x="441.00" y="590.99" font-size="7.8" text-anchor="end" textLength="9.28" lengthAdjust="spacingAndGlyphs">30</text>
<line x1="444.40" y1="613.00" x2="447.00" y2="613.00" stroke="#231f20" stroke-width="0.9"/>
<text x="441.00" y="615.79" font-size="7.8" text-anchor="end" textLength="9.28" lengthAdjust="spacingAndGlyphs">20</text>
<line x1="444.40" y1="637.70" x2="447.00" y2="637.70" stroke="#231f20" stroke-width="0.9"/>
<text x="441.00" y="640.49" font-size="7.8" text-anchor="end" textLength="9.28" lengthAdjust="spacingAndGlyphs">10</text>
<line x1="444.40" y1="662.40" x2="447.00" y2="662.40" stroke="#231f20" stroke-width="0.9"/>
<text x="441.00" y="665.19" font-size="7.8" text-anchor="end" textLength="4.64" lengthAdjust="spacingAndGlyphs">0</text>
<line x1="465.90" y1="662.40" x2="465.90" y2="665.80" stroke="#231f20" stroke-width="0.9"/>
<line x1="494.00" y1="662.40" x2="494.00" y2="665.80" stroke="#231f20" stroke-width="0.9"/>
<text x="459.50" y="675.36" font-size="8.0" textLength="13.00" lengthAdjust="spacingAndGlyphs">+/+</text>
<text x="488.85" y="675.36" font-size="8.0" textLength="10.50" lengthAdjust="spacingAndGlyphs">+/-</text>
<text x="425.20" y="675.36" font-size="8.0" textLength="24.60" lengthAdjust="spacingAndGlyphs">GATA2</text>
<text transform="translate(425.43 642.50) rotate(-90)" font-size="9.3" textLength="62.50" lengthAdjust="spacingAndGlyphs" class="v">Frequency of CFU-M</text>
</g>
<rect x="0" y="0" width="520" height="1.1" fill="#111"/>
<rect x="0" y="0" width="1.1" height="685" fill="#111"/>
<rect x="518.8" y="0" width="1.2" height="685" fill="#111"/>
<rect x="0" y="683.4" width="520" height="1.6" fill="#111"/>
</svg>
</body></html>
